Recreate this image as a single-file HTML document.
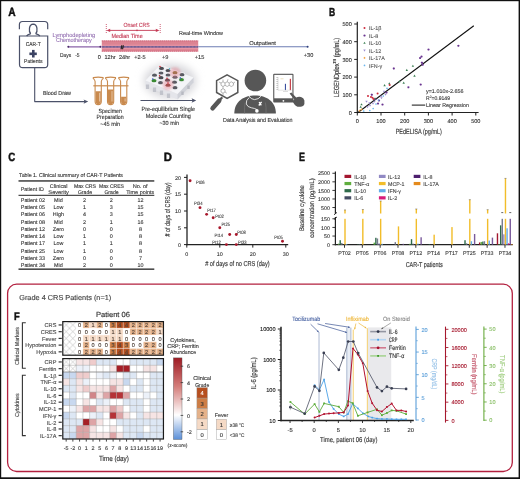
<!DOCTYPE html>
<html><head><meta charset="utf-8"><style>
html,body{margin:0;padding:0;background:#fff;}
svg{display:block;filter:blur(0.2px);}
text{font-family:"Liberation Sans", sans-serif;text-rendering:geometricPrecision;}
</style></head><body>
<svg width="520" height="479" viewBox="0 0 520 479">
<defs>
<filter id="blur2" x="-50%" y="-50%" width="200%" height="200%"><feGaussianBlur stdDeviation="2"/></filter>
<filter id="blur1" x="-50%" y="-50%" width="200%" height="200%"><feGaussianBlur stdDeviation="1"/></filter>
<filter id="blur4" x="-50%" y="-50%" width="200%" height="200%"><feGaussianBlur stdDeviation="4"/></filter>
<linearGradient id="zbar" x1="0" y1="0" x2="0" y2="1">
<stop offset="0" stop-color="#9e1b24"/>
<stop offset="0.35" stop-color="#d47d7a"/>
<stop offset="0.70" stop-color="#ffffff"/>
<stop offset="1" stop-color="#5a8fd8"/>
</linearGradient>
<pattern id="xh" x="62.8" y="321.6" width="6.71" height="6.72" patternUnits="userSpaceOnUse">
<path d="M0,0 L6.71,6.72 M6.71,0 L0,6.72" stroke="#aaaaaa" stroke-width="0.5"/>
</pattern>
<pattern id="xh2" x="62.8" y="358.6" width="6.71" height="6.7" patternUnits="userSpaceOnUse">
<path d="M0,0 L6.71,6.7 M6.71,0 L0,6.7" stroke="#aaaaaa" stroke-width="0.5"/>
</pattern>
</defs>
<rect width="520" height="479" fill="#fff"/>
<text x="8.20" y="15.86" font-size="12" fill="#111" textLength="7.4" lengthAdjust="spacingAndGlyphs" font-weight="bold" stroke="#111" stroke-width="0.45" stroke-linejoin="round">A</text>
<path d="M19.4,29.3 L19.4,24.6 Q19.4,21.5 22.5,21.5 L44.6,21.5 Q47.7,21.5 47.7,24.6 L47.7,29.3" fill="none" stroke="#4b5169" stroke-width="1.2" />
<path d="M30.7,33.7 C28.6,31.6 28.7,24.2 33.2,24.1 C37.7,24.2 37.8,31.6 35.7,33.7" fill="none" stroke="#4b5169" stroke-width="1.3" />
<path d="M26.6,36 C27.8,34.4 29.4,34.1 30.7,33.7 M35.7,33.7 C37.0,34.1 38.6,34.4 39.8,36" fill="none" stroke="#4b5169" stroke-width="1.3" />
<path d="M19.5,36 L47.7,36 L47.7,64.4 Q47.7,67.6 44.5,67.6 L22.7,67.6 Q19.5,67.6 19.5,64.4 Z" fill="none" stroke="#4b5169" stroke-width="1.2" />
<text x="33.20" y="46.09" font-size="5.6" fill="#333" stroke="#333" stroke-width="0.112" text-anchor="middle" textLength="15" lengthAdjust="spacingAndGlyphs">CAR-T</text>
<rect x="29.40" y="52.50" width="7.40" height="2.60" fill="#3a4262" />
<rect x="32.00" y="49.90" width="2.60" height="7.60" fill="#3a4262" />
<text x="33.30" y="63.29" font-size="5.6" fill="#333" stroke="#333" stroke-width="0.112" text-anchor="middle" textLength="18.6" lengthAdjust="spacingAndGlyphs">Patients</text>
<polyline points="34.70,67.60 34.70,101.60 85.50,101.60" fill="none" stroke="#4b5169" stroke-width="1.1" stroke-linejoin="round" />
<path d="M88.2,101.6 L83.6,99.4 L84.6,101.6 L83.6,103.8 Z" fill="#4b5169" />
<text x="43.00" y="95.49" font-size="5.9" fill="#333" stroke="#333" stroke-width="0.118" textLength="28" lengthAdjust="spacingAndGlyphs">Blood Draw</text>
<text x="52.50" y="36.56" font-size="5.8" fill="#9470b2" stroke="#9470b2" stroke-width="0.116" textLength="42.7" lengthAdjust="spacingAndGlyphs">Lymphodepleting</text>
<text x="56.00" y="42.46" font-size="5.8" fill="#9470b2" stroke="#9470b2" stroke-width="0.116" textLength="35.7" lengthAdjust="spacingAndGlyphs">Chemotherapy</text>
<line x1="68.10" y1="46.80" x2="101.00" y2="46.80" stroke="#8a62a8" stroke-width="1.2" />
<circle cx="68.30" cy="46.80" r="1.0" fill="#4b2a6b" />
<circle cx="100.40" cy="46.80" r="1.0" fill="#4b2a6b" />
<text x="60.00" y="56.79" font-size="5.6" fill="#333" stroke="#333" stroke-width="0.112" textLength="11.3" lengthAdjust="spacingAndGlyphs">Days</text>
<text x="75.20" y="56.79" font-size="5.6" fill="#333" stroke="#333" stroke-width="0.112" textLength="4.4" lengthAdjust="spacingAndGlyphs">-5</text>
<rect x="101.80" y="40.50" width="96.40" height="11.10" fill="#dc8392" />
<line x1="101.80" y1="40.90" x2="198.20" y2="40.90" stroke="#c8506a" stroke-width="0.8" stroke-dasharray="1,1"/>
<line x1="101.80" y1="51.20" x2="198.20" y2="51.20" stroke="#c8506a" stroke-width="0.8" stroke-dasharray="1,1"/>
<line x1="101.80" y1="45.20" x2="198.20" y2="45.20" stroke="#eb9cab" stroke-width="0.8" />
<line x1="101.80" y1="48.60" x2="198.20" y2="48.60" stroke="#eb9cab" stroke-width="0.8" />
<line x1="101.80" y1="46.90" x2="198.20" y2="46.90" stroke="#7b78ae" stroke-width="1.4" />
<line x1="101.80" y1="46.90" x2="198.20" y2="46.90" stroke="#4a3a78" stroke-width="1.0" stroke-dasharray="0.7,0.7"/>
<text x="122.20" y="49.17" font-size="5" fill="#222" text-anchor="middle" font-weight="bold" stroke="#222" stroke-width="0.45" stroke-linejoin="round">//</text>
<line x1="198.20" y1="46.80" x2="307.60" y2="46.80" stroke="#6c7db3" stroke-width="1.1" />
<circle cx="307.60" cy="46.80" r="1.0" fill="#2f3f7a" />
<text x="99.30" y="59.29" font-size="5.6" fill="#333" stroke="#333" stroke-width="0.112" text-anchor="middle">0</text>
<text x="110.10" y="59.29" font-size="5.6" fill="#333" stroke="#333" stroke-width="0.112" text-anchor="middle">12hr</text>
<text x="124.60" y="59.29" font-size="5.6" fill="#333" stroke="#333" stroke-width="0.112" text-anchor="middle">24hr</text>
<text x="139.90" y="59.29" font-size="5.6" fill="#333" stroke="#333" stroke-width="0.112" text-anchor="middle">+2-5</text>
<text x="165.20" y="59.29" font-size="5.6" fill="#333" stroke="#333" stroke-width="0.112" text-anchor="middle">+9</text>
<text x="199.60" y="59.29" font-size="5.6" fill="#333" stroke="#333" stroke-width="0.112" text-anchor="middle">+15</text>
<text x="308.60" y="56.89" font-size="5.6" fill="#333" stroke="#333" stroke-width="0.112" text-anchor="middle">+30</text>
<text x="136.70" y="26.83" font-size="6.0" fill="#c43a55" stroke="#c43a55" stroke-width="0.120" text-anchor="middle" textLength="26.2" lengthAdjust="spacingAndGlyphs">Onset CRS</text>
<text x="127.10" y="37.53" font-size="6.0" fill="#c43a55" stroke="#c43a55" stroke-width="0.120" text-anchor="middle" textLength="31.2" lengthAdjust="spacingAndGlyphs">Median Time</text>
<line x1="106.30" y1="24.00" x2="106.30" y2="33.00" stroke="#c43a55" stroke-width="0.8" stroke-dasharray="1,1"/>
<line x1="160.20" y1="24.00" x2="160.20" y2="33.00" stroke="#c43a55" stroke-width="0.8" stroke-dasharray="1,1"/>
<line x1="108.50" y1="30.40" x2="157.50" y2="30.40" stroke="#c43a55" stroke-width="0.9" />
<path d="M106.6,30.4 L110.2,28.7 L110.2,32.1 Z" fill="#c43a55" />
<path d="M159.4,30.4 L155.8,28.7 L155.8,32.1 Z" fill="#c43a55" />
<circle cx="137.00" cy="30.40" r="0.8" fill="#c43a55" />
<text x="179.00" y="34.89" font-size="5.6" fill="#333" stroke="#333" stroke-width="0.112" textLength="44" lengthAdjust="spacingAndGlyphs">Real-time Window</text>
<text x="249.20" y="44.89" font-size="5.6" fill="#333" stroke="#333" stroke-width="0.112" textLength="26.8" lengthAdjust="spacingAndGlyphs">Outpatient</text>
<path d="M93.3,77.6 Q98.2,76.6 103.1,77.6 L103.1,78.6 Q101.5,79.6 101.3,81.5 L101.3,101.5 Q101.3,104.6 98.2,104.6 Q95.1,104.6 95.1,101.5 L95.1,81.5 Q94.9,79.6 93.3,78.6 Z" fill="none" stroke="#c98a4e" stroke-width="1.1" />
<path d="M95.6,91.3 L100.8,91.3 L100.8,101.5 Q100.8,104.1 98.2,104.1 Q95.6,104.1 95.6,101.5 Z" fill="#c98a4e" />
<line x1="99.60" y1="92.80" x2="99.60" y2="101.50" stroke="#f3dcc6" stroke-width="0.7" />
<path d="M105.7,77.6 Q110.6,76.6 115.5,77.6 L115.5,78.6 Q113.9,79.6 113.7,81.5 L113.7,101.5 Q113.7,104.6 110.6,104.6 Q107.5,104.6 107.5,101.5 L107.5,81.5 Q107.3,79.6 105.7,78.6 Z" fill="none" stroke="#c98a4e" stroke-width="1.1" />
<path d="M108.0,89.6 L113.2,89.6 L113.2,101.5 Q113.2,104.1 110.6,104.1 Q108.0,104.1 108.0,101.5 Z" fill="#c98a4e" />
<line x1="112.00" y1="91.10" x2="112.00" y2="101.50" stroke="#f3dcc6" stroke-width="0.7" />
<path d="M118.8,77.6 Q123.7,76.6 128.6,77.6 L128.6,78.6 Q127.0,79.6 126.8,81.5 L126.8,101.5 Q126.8,104.6 123.7,104.6 Q120.6,104.6 120.6,101.5 L120.6,81.5 Q120.4,79.6 118.8,78.6 Z" fill="none" stroke="#c98a4e" stroke-width="1.1" />
<path d="M121.1,96.8 L126.3,96.8 L126.3,101.5 Q126.3,104.1 123.7,104.1 Q121.1,104.1 121.1,101.5 Z" fill="#c98a4e" />
<line x1="125.10" y1="98.30" x2="125.10" y2="101.50" stroke="#f3dcc6" stroke-width="0.7" />
<rect x="93.30" y="85.20" width="35.20" height="1.20" fill="#c98a4e" />
<text x="110.20" y="112.93" font-size="6.0" fill="#333" stroke="#333" stroke-width="0.120" text-anchor="middle" textLength="23.5" lengthAdjust="spacingAndGlyphs">Specimen</text>
<text x="110.10" y="119.43" font-size="6.0" fill="#333" stroke="#333" stroke-width="0.120" text-anchor="middle" textLength="27.3" lengthAdjust="spacingAndGlyphs">Preparation</text>
<text x="110.20" y="125.93" font-size="6.0" fill="#333" stroke="#333" stroke-width="0.120" text-anchor="middle" textLength="19.9" lengthAdjust="spacingAndGlyphs">~45 min</text>
<ellipse cx="170" cy="81" rx="26" ry="17" fill="#d6d6da" filter="url(#blur4)"/>
<path d="M145.5,80.5 L177.5,94 L177.5,99.5 L145.5,86 Z" fill="#e4e5ea" />
<path d="M177.5,94 L193.5,77.5 L193.5,82.5 L177.5,99.5 Z" fill="#d0d2d9" />
<path d="M145.5,80.5 L160.5,64.5 L193.5,77.5 L177.5,94 Z" fill="#f4f5f8" />
<rect x="145.9" y="84.5" width="3.2" height="4.5" fill="#b9bcc4" opacity="0.8"/>
<rect x="152.9" y="87.5" width="3.2" height="4.5" fill="#b9bcc4" opacity="0.8"/>
<rect x="159.9" y="90.5" width="3.2" height="4.5" fill="#b9bcc4" opacity="0.8"/>
<rect x="166.9" y="93.5" width="3.2" height="4.5" fill="#b9bcc4" opacity="0.8"/>
<rect x="181.3" y="91.5" width="2.4" height="3.5" fill="#b0b3bb" opacity="0.8"/>
<rect x="187.3" y="85.5" width="2.4" height="3.5" fill="#b0b3bb" opacity="0.8"/>
<ellipse cx="161.5" cy="68.2" rx="3.2" ry="2.2" fill="#ffffff" stroke="#d5d7dd" stroke-width="0.4"/>
<ellipse cx="161.5" cy="68.4" rx="2.5" ry="1.6" fill="#4a4c52"/>
<ellipse cx="168" cy="70.3" rx="3.2" ry="2.2" fill="#ffffff" stroke="#d5d7dd" stroke-width="0.4"/>
<ellipse cx="168" cy="70.5" rx="2.5" ry="1.6" fill="#4a4c52"/>
<ellipse cx="175" cy="72.5" rx="3.2" ry="2.2" fill="#ffffff" stroke="#d5d7dd" stroke-width="0.4"/>
<ellipse cx="175" cy="72.7" rx="2.5" ry="1.6" fill="#7a6a2a"/>
<ellipse cx="161" cy="72.8" rx="3.2" ry="2.2" fill="#ffffff" stroke="#d5d7dd" stroke-width="0.4"/>
<ellipse cx="161" cy="73.0" rx="2.5" ry="1.6" fill="#585a62"/>
<ellipse cx="168" cy="74.8" rx="3.2" ry="2.2" fill="#ffffff" stroke="#d5d7dd" stroke-width="0.4"/>
<ellipse cx="168" cy="75.0" rx="2.5" ry="1.6" fill="#585a62"/>
<ellipse cx="175" cy="77" rx="3.2" ry="2.2" fill="#ffffff" stroke="#d5d7dd" stroke-width="0.4"/>
<ellipse cx="175" cy="77.2" rx="2.5" ry="1.6" fill="#585a62"/>
<ellipse cx="182" cy="74.5" rx="3.2" ry="2.2" fill="#ffffff" stroke="#d5d7dd" stroke-width="0.4"/>
<ellipse cx="182" cy="74.7" rx="2.5" ry="1.6" fill="#585a62"/>
<ellipse cx="154.5" cy="75" rx="3.2" ry="2.2" fill="#ffffff" stroke="#d5d7dd" stroke-width="0.4"/>
<ellipse cx="154.5" cy="75.2" rx="2.5" ry="1.6" fill="#585a62"/>
<ellipse cx="161" cy="77.5" rx="3.2" ry="2.2" fill="#ffffff" stroke="#d5d7dd" stroke-width="0.4"/>
<ellipse cx="161" cy="77.7" rx="2.5" ry="1.6" fill="#4a4c52"/>
<ellipse cx="167.5" cy="80" rx="3.2" ry="2.2" fill="#ffffff" stroke="#d5d7dd" stroke-width="0.4"/>
<ellipse cx="167.5" cy="80.2" rx="2.5" ry="1.6" fill="#4a3a40"/>
<ellipse cx="174.5" cy="82" rx="3.2" ry="2.2" fill="#ffffff" stroke="#d5d7dd" stroke-width="0.4"/>
<ellipse cx="174.5" cy="82.2" rx="2.5" ry="1.6" fill="#585a62"/>
<ellipse cx="181.5" cy="79.5" rx="3.2" ry="2.2" fill="#ffffff" stroke="#d5d7dd" stroke-width="0.4"/>
<ellipse cx="181.5" cy="79.7" rx="2.5" ry="1.6" fill="#3a8a34"/>
<ellipse cx="154" cy="80.5" rx="3.2" ry="2.2" fill="#ffffff" stroke="#d5d7dd" stroke-width="0.4"/>
<ellipse cx="154" cy="80.7" rx="2.5" ry="1.6" fill="#3a8a34"/>
<ellipse cx="160.5" cy="82.5" rx="3.2" ry="2.2" fill="#ffffff" stroke="#d5d7dd" stroke-width="0.4"/>
<ellipse cx="160.5" cy="82.7" rx="2.5" ry="1.6" fill="#585a62"/>
<ellipse cx="168" cy="85" rx="3.2" ry="2.2" fill="#ffffff" stroke="#d5d7dd" stroke-width="0.4"/>
<ellipse cx="168" cy="85.2" rx="2.5" ry="1.6" fill="#7a3026"/>
<ellipse cx="175" cy="87.5" rx="3.2" ry="2.2" fill="#ffffff" stroke="#d5d7dd" stroke-width="0.4"/>
<ellipse cx="175" cy="87.7" rx="2.5" ry="1.6" fill="#585a62"/>
<circle cx="175" cy="72.5" r="5.5" fill="#e77e8c" opacity="0.4" filter="url(#blur1)"/>
<circle cx="168" cy="84.5" r="5.5" fill="#e77e8c" opacity="0.4" filter="url(#blur1)"/>
<circle cx="160.00" cy="66.50" r="0.8" fill="#d02838" />
<circle cx="169.50" cy="68.80" r="0.8" fill="#50b8d0" />
<circle cx="167.00" cy="68.30" r="0.8" fill="#e8e8e8" />
<circle cx="152.80" cy="79.00" r="0.8" fill="#2848c0" />
<circle cx="180.30" cy="78.00" r="0.8" fill="#2848c0" />
<circle cx="159.60" cy="75.80" r="0.8" fill="#d02838" />
<circle cx="167.00" cy="78.30" r="0.8" fill="#d02838" />
<circle cx="168.00" cy="83.00" r="0.8" fill="#d02838" />
<line x1="140.50" y1="100.50" x2="193.50" y2="100.50" stroke="#4b5169" stroke-width="1.1" />
<path d="M196.2,100.5 L191.6,98.3 L192.6,100.5 L191.6,102.7 Z" fill="#4b5169" />
<text x="168.30" y="111.43" font-size="6.0" fill="#333" stroke="#333" stroke-width="0.120" text-anchor="middle" textLength="53.5" lengthAdjust="spacingAndGlyphs">Pre-equilibrium Single</text>
<text x="168.30" y="118.03" font-size="6.0" fill="#333" stroke="#333" stroke-width="0.120" text-anchor="middle" textLength="45" lengthAdjust="spacingAndGlyphs">Molecule Counting</text>
<text x="169.20" y="124.53" font-size="6.0" fill="#333" stroke="#333" stroke-width="0.120" text-anchor="middle" textLength="19.6" lengthAdjust="spacingAndGlyphs">~30 min</text>
<path d="M227.1,74.8 L237.8,80.6 L237.8,92.5 L227.1,98.5 L216.6,92.5 L216.6,80.6 Z" fill="none" stroke="#575757" stroke-width="1.5" />
<line x1="222.30" y1="97.20" x2="219.60" y2="100.20" stroke="#575757" stroke-width="2.2" />
<line x1="219.20" y1="100.80" x2="212.60" y2="108.20" stroke="#575757" stroke-width="4.6" stroke-linecap="round"/>
<path d="M221,83 L223,81.8 L225,83 L225,85.3 L223,86.5 L221,85.3 Z M225,83 L227.2,81.8 L229.2,83 L229.2,85.3 L227.2,86.5 L225,85.3 M229.2,83 L231.3,81.8 L233.4,83 L233.4,85.3 L231.3,86.5 L229.2,85.3 M223,86.5 L223,88.6 L221,89.8 L221,92 L223,93.2 L225,92 L225,89.8 L223,88.6 M223,81.8 L223,79.5 M227.2,81.8 L228,79.2 M233.4,83 L235,82 M219,82 L221,83 M225,92 L226.8,93.2 M223,93.2 L223,95" fill="none" stroke="#7a7a7a" stroke-width="0.55" />
<circle cx="255.40" cy="80.50" r="10.8" fill="#575757" />
<path d="M234.3,113.6 C234.3,101 244,95.4 255.1,95.4 C266.2,95.4 275.9,101 275.9,113.6 Z" fill="#575757" />
<path d="M249,96 Q251,99.5 254.5,99.6 Q258.5,99.5 261.2,96" fill="none" stroke="#ffffff" stroke-width="0.8" />
<path d="M249.2,97.5 Q245.6,100.5 246.3,104 Q247.5,107.2 251.5,107.8 Q255,108.3 256.8,109.5" fill="none" stroke="#ffffff" stroke-width="0.8" />
<path d="M244.6,113.6 Q244.2,107 245.2,102.5 M266.0,113.6 Q266.4,107 265.4,102.5" fill="none" stroke="#7a7a7a" stroke-width="0.6" />
<circle cx="256.90" cy="110.90" r="1.8" fill="#ffffff" />
<path d="M259.1,102.0 L261.3,105.4 M261.6,101.9 L258.8,105.5" fill="none" stroke="#ffffff" stroke-width="1.3" />
<path d="M273.2,74.8 Q273.2,73.8 274.2,73.8 L292.5,73.8 Q293.5,73.8 293.5,74.8 L293.5,101.6 Q293.5,102.6 292.5,102.6 L274.2,102.6 Q273.2,102.6 273.2,101.6 Z" fill="#575757" />
<rect x="274.30" y="74.90" width="18.10" height="23.40" fill="#ffffff" />
<circle cx="283.40" cy="100.80" r="0.9" fill="#ffffff" />
<rect x="284.90" y="83.80" width="1.10" height="6.30" fill="#3b4fa0" />
<rect x="289.80" y="78.80" width="1.10" height="11.30" fill="#c0303a" />
<line x1="276.30" y1="77.50" x2="278.00" y2="77.50" stroke="#9a9a9a" stroke-width="0.5" />
<line x1="276.30" y1="79.50" x2="278.00" y2="79.50" stroke="#9a9a9a" stroke-width="0.5" />
<line x1="276.30" y1="81.50" x2="278.00" y2="81.50" stroke="#9a9a9a" stroke-width="0.5" />
<line x1="276.30" y1="83.50" x2="278.00" y2="83.50" stroke="#9a9a9a" stroke-width="0.5" />
<line x1="276.30" y1="85.50" x2="278.00" y2="85.50" stroke="#9a9a9a" stroke-width="0.5" />
<line x1="276.30" y1="87.50" x2="278.00" y2="87.50" stroke="#9a9a9a" stroke-width="0.5" />
<line x1="276.30" y1="89.50" x2="278.00" y2="89.50" stroke="#9a9a9a" stroke-width="0.5" />
<line x1="278.00" y1="77.00" x2="278.00" y2="90.20" stroke="#aaaaaa" stroke-width="0.4" />
<line x1="278.00" y1="90.20" x2="291.50" y2="90.20" stroke="#bbbbbb" stroke-width="0.4" />
<line x1="280.50" y1="78.80" x2="283.50" y2="78.80" stroke="#d8c080" stroke-width="0.5" />
<line x1="283.00" y1="91.50" x2="288.00" y2="91.50" stroke="#aaaaaa" stroke-width="0.4" />
<path d="M289.6,93.4 L291.4,92.4 L296.2,97.4 Q298.5,96.5 301,97 Q303.8,97.8 304.4,100.5 L304.4,104 Q303.5,106.8 300.5,106.8 L297.5,106.8 Q295.5,106 294.5,104.5 L292.8,102 Q292.6,100.3 294.3,99.4 Z" fill="#575757" />
<text x="257.80" y="122.49" font-size="5.9" fill="#333" stroke="#333" stroke-width="0.118" text-anchor="middle" textLength="69.5" lengthAdjust="spacingAndGlyphs">Data Analysis and Evaluation</text>
<text x="328.90" y="15.62" font-size="11.6" fill="#111" textLength="6.2" lengthAdjust="spacingAndGlyphs" font-weight="bold" stroke="#111" stroke-width="0.45" stroke-linejoin="round">B</text>
<line x1="357.30" y1="21.80" x2="357.30" y2="113.10" stroke="#222" stroke-width="1.2" />
<line x1="356.70" y1="112.50" x2="478.60" y2="112.50" stroke="#222" stroke-width="1.2" />
<line x1="354.20" y1="112.50" x2="357.30" y2="112.50" stroke="#222" stroke-width="1" />
<text x="351.80" y="114.79" font-size="5.6" fill="#333" stroke="#333" stroke-width="0.112" text-anchor="end">0</text>
<line x1="357.30" y1="112.50" x2="357.30" y2="115.50" stroke="#222" stroke-width="1" />
<text x="357.30" y="123.49" font-size="5.6" fill="#333" stroke="#333" stroke-width="0.112" text-anchor="middle">0</text>
<line x1="354.20" y1="94.80" x2="357.30" y2="94.80" stroke="#222" stroke-width="1" />
<text x="351.80" y="97.09" font-size="5.6" fill="#333" stroke="#333" stroke-width="0.112" text-anchor="end">100</text>
<line x1="381.00" y1="112.50" x2="381.00" y2="115.50" stroke="#222" stroke-width="1" />
<text x="381.00" y="123.49" font-size="5.6" fill="#333" stroke="#333" stroke-width="0.112" text-anchor="middle">100</text>
<line x1="354.20" y1="77.10" x2="357.30" y2="77.10" stroke="#222" stroke-width="1" />
<text x="351.80" y="79.39" font-size="5.6" fill="#333" stroke="#333" stroke-width="0.112" text-anchor="end">200</text>
<line x1="404.70" y1="112.50" x2="404.70" y2="115.50" stroke="#222" stroke-width="1" />
<text x="404.70" y="123.49" font-size="5.6" fill="#333" stroke="#333" stroke-width="0.112" text-anchor="middle">200</text>
<line x1="354.20" y1="59.40" x2="357.30" y2="59.40" stroke="#222" stroke-width="1" />
<text x="351.80" y="61.69" font-size="5.6" fill="#333" stroke="#333" stroke-width="0.112" text-anchor="end">300</text>
<line x1="428.40" y1="112.50" x2="428.40" y2="115.50" stroke="#222" stroke-width="1" />
<text x="428.40" y="123.49" font-size="5.6" fill="#333" stroke="#333" stroke-width="0.112" text-anchor="middle">300</text>
<line x1="354.20" y1="41.70" x2="357.30" y2="41.70" stroke="#222" stroke-width="1" />
<text x="351.80" y="43.99" font-size="5.6" fill="#333" stroke="#333" stroke-width="0.112" text-anchor="end">400</text>
<line x1="452.10" y1="112.50" x2="452.10" y2="115.50" stroke="#222" stroke-width="1" />
<text x="452.10" y="123.49" font-size="5.6" fill="#333" stroke="#333" stroke-width="0.112" text-anchor="middle">400</text>
<line x1="354.20" y1="24.00" x2="357.30" y2="24.00" stroke="#222" stroke-width="1" />
<text x="351.80" y="26.29" font-size="5.6" fill="#333" stroke="#333" stroke-width="0.112" text-anchor="end">500</text>
<line x1="475.80" y1="112.50" x2="475.80" y2="115.50" stroke="#222" stroke-width="1" />
<text x="475.80" y="123.49" font-size="5.6" fill="#333" stroke="#333" stroke-width="0.112" text-anchor="middle">500</text>
<text x="418.80" y="133.83" font-size="7.4" fill="#333" stroke="#333" stroke-width="0.148" text-anchor="middle" textLength="46.3" lengthAdjust="spacingAndGlyphs">PEdELISA (pg/mL)</text>
<g transform="translate(335.90,67.50) rotate(-90)"><text x="0" y="2.63" font-size="7.4" fill="#333" stroke="#333" stroke-width="0.148" text-anchor="middle" textLength="59.5" lengthAdjust="spacingAndGlyphs">LEGENDplex<tspan font-size="4.2" dy="-2.5">TM</tspan><tspan dy="2.5"> (pg/mL)</tspan></text></g>
<circle cx="364.50" cy="28.00" r="1.02" fill="#cc2a3c" />
<text x="369.00" y="30.22" font-size="5.4" fill="#555" stroke="#555" stroke-width="0.108">IL-1&#946;</text>
<path d="M363.31,34.97 L364.50,34.38 L365.69,34.97 L365.18,36.50 L363.82,36.50 Z" fill="#6a3590" />
<text x="369.00" y="37.70" font-size="5.4" fill="#555" stroke="#555" stroke-width="0.108">IL-8</text>
<path d="M364.50,41.69 L365.69,43.81 L363.31,43.81 Z" fill="#3d8055" />
<text x="369.00" y="45.18" font-size="5.4" fill="#555" stroke="#555" stroke-width="0.108">IL-10</text>
<path d="M364.50,51.63 L365.69,49.59 L363.31,49.59 Z" fill="#9d8fd0" />
<text x="369.00" y="52.66" font-size="5.4" fill="#555" stroke="#555" stroke-width="0.108">IL-12</text>
<path d="M364.50,56.73 L365.61,57.92 L364.50,59.11 L363.39,57.92 Z" fill="#f0a040" />
<text x="369.00" y="60.14" font-size="5.4" fill="#555" stroke="#555" stroke-width="0.108">IL-17A</text>
<circle cx="364.50" cy="65.40" r="0.85" fill="#6ab6ee" />
<text x="369.00" y="67.62" font-size="5.4" fill="#555" stroke="#555" stroke-width="0.108">IFN-&#947;</text>
<line x1="357.30" y1="112.97" x2="473.80" y2="25.80" stroke="#111" stroke-width="1.1" />
<path d="M392.61,67.89 L393.80,67.30 L394.99,67.89 L394.48,69.42 L393.12,69.42 Z" fill="#6a3590" />
<path d="M420.71,62.19 L421.90,61.60 L423.09,62.19 L422.58,63.72 L421.22,63.72 Z" fill="#6a3590" />
<path d="M421.51,64.19 L422.70,63.60 L423.89,64.19 L423.38,65.72 L422.02,65.72 Z" fill="#6a3590" />
<path d="M407.21,86.79 L408.40,86.19 L409.59,86.79 L409.08,88.32 L407.72,88.32 Z" fill="#6a3590" />
<path d="M419.51,83.99 L420.70,83.39 L421.89,83.99 L421.38,85.52 L420.02,85.52 Z" fill="#6a3590" />
<path d="M384.00,92.79 L385.19,90.75 L382.81,90.75 Z" fill="#9d8fd0" />
<path d="M370.61,94.19 L371.80,93.59 L372.99,94.19 L372.48,95.72 L371.12,95.72 Z" fill="#6a3590" />
<path d="M457.21,45.29 L458.40,44.70 L459.59,45.29 L459.08,46.82 L457.72,46.82 Z" fill="#6a3590" />
<path d="M427.31,49.09 L428.50,48.50 L429.69,49.09 L429.18,50.62 L427.82,50.62 Z" fill="#6a3590" />
<path d="M420.31,55.99 L421.50,55.40 L422.69,55.99 L422.18,57.52 L420.82,57.52 Z" fill="#6a3590" />
<path d="M418.91,57.59 L420.10,57.00 L421.29,57.59 L420.78,59.12 L419.42,59.12 Z" fill="#6a3590" />
<path d="M385.31,91.99 L386.50,91.39 L387.69,91.99 L387.18,93.52 L385.82,93.52 Z" fill="#6a3590" />
<path d="M381.50,99.19 L382.69,97.15 L380.31,97.15 Z" fill="#9d8fd0" />
<path d="M377.81,99.99 L379.00,99.39 L380.19,99.99 L379.68,101.52 L378.32,101.52 Z" fill="#6a3590" />
<path d="M374.31,98.49 L375.50,97.89 L376.69,98.49 L376.18,100.02 L374.82,100.02 Z" fill="#6a3590" />
<path d="M373.00,104.69 L374.19,102.65 L371.81,102.65 Z" fill="#9d8fd0" />
<path d="M369.50,104.19 L370.69,102.15 L368.31,102.15 Z" fill="#9d8fd0" />
<path d="M381.31,103.99 L382.50,103.39 L383.69,103.99 L383.18,105.52 L381.82,105.52 Z" fill="#6a3590" />
<path d="M376.81,102.99 L378.00,102.39 L379.19,102.99 L378.68,104.52 L377.32,104.52 Z" fill="#6a3590" />
<path d="M366.50,102.69 L367.69,100.65 L365.31,100.65 Z" fill="#9d8fd0" />
<path d="M412.90,64.72 L414.09,66.85 L411.71,66.85 Z" fill="#3d8055" />
<path d="M406.80,68.82 L407.99,70.95 L405.61,70.95 Z" fill="#3d8055" />
<path d="M414.50,74.62 L415.69,76.75 L413.31,76.75 Z" fill="#3d8055" />
<path d="M403.70,81.62 L404.89,83.75 L402.51,83.75 Z" fill="#3d8055" />
<path d="M399.40,80.22 L400.59,82.35 L398.21,82.35 Z" fill="#3d8055" />
<path d="M389.30,82.22 L390.49,84.35 L388.11,84.35 Z" fill="#3d8055" />
<path d="M384.60,84.02 L385.79,86.15 L383.41,86.15 Z" fill="#3d8055" />
<path d="M360.70,105.72 L361.89,107.85 L359.51,107.85 Z" fill="#3d8055" />
<path d="M361.50,103.22 L362.69,105.35 L360.31,105.35 Z" fill="#3d8055" />
<path d="M375.00,97.22 L376.19,99.35 L373.81,99.35 Z" fill="#3d8055" />
<circle cx="389.70" cy="84.90" r="1.02" fill="#cc2a3c" />
<circle cx="377.60" cy="93.40" r="1.02" fill="#cc2a3c" />
<circle cx="368.00" cy="96.00" r="1.02" fill="#cc2a3c" />
<circle cx="372.50" cy="97.70" r="1.02" fill="#cc2a3c" />
<circle cx="373.50" cy="99.00" r="1.02" fill="#cc2a3c" />
<circle cx="371.00" cy="97.00" r="1.02" fill="#cc2a3c" />
<circle cx="387.00" cy="88.30" r="0.85" fill="#6ab6ee" />
<circle cx="383.30" cy="96.00" r="0.85" fill="#6ab6ee" />
<circle cx="373.20" cy="108.50" r="0.85" fill="#6ab6ee" />
<circle cx="369.80" cy="110.50" r="0.85" fill="#6ab6ee" />
<circle cx="363.70" cy="111.00" r="0.85" fill="#6ab6ee" />
<circle cx="378.50" cy="100.00" r="0.85" fill="#6ab6ee" />
<circle cx="376.00" cy="104.00" r="0.85" fill="#6ab6ee" />
<path d="M370.00,106.69 L371.19,104.65 L368.81,104.65 Z" fill="#9d8fd0" />
<path d="M367.50,108.19 L368.69,106.15 L366.31,106.15 Z" fill="#9d8fd0" />
<path d="M381.00,97.69 L382.19,95.65 L379.81,95.65 Z" fill="#9d8fd0" />
<path d="M385.50,95.69 L386.69,93.65 L384.31,93.65 Z" fill="#9d8fd0" />
<path d="M374.50,102.69 L375.69,100.65 L373.31,100.65 Z" fill="#9d8fd0" />
<path d="M359.50,109.61 L360.61,110.80 L359.50,111.99 L358.39,110.80 Z" fill="#f0a040" />
<path d="M361.50,108.31 L362.61,109.50 L361.50,110.69 L360.39,109.50 Z" fill="#f0a040" />
<text x="426.00" y="93.32" font-size="5.4" fill="#333" stroke="#333" stroke-width="0.108" textLength="37.5" lengthAdjust="spacingAndGlyphs">y=1.010x-2.656</text>
<text x="426.00" y="99.82" font-size="5.4" fill="#333" stroke="#333" stroke-width="0.108" textLength="24" lengthAdjust="spacingAndGlyphs">R<tspan font-size="3.5" dy="-1.8">2</tspan><tspan dy="1.8">=0.9149</tspan></text>
<line x1="411.80" y1="105.10" x2="425.20" y2="105.10" stroke="#111" stroke-width="1.0" />
<text x="426.00" y="107.42" font-size="5.4" fill="#333" stroke="#333" stroke-width="0.108" textLength="43" lengthAdjust="spacingAndGlyphs">Linear Regression</text>
<text x="8.20" y="160.81" font-size="12" fill="#111" textLength="7.0" lengthAdjust="spacingAndGlyphs" font-weight="bold" stroke="#111" stroke-width="0.45" stroke-linejoin="round">C</text>
<text x="19.00" y="177.39" font-size="5.6" fill="#333" stroke="#333" stroke-width="0.112" textLength="104" lengthAdjust="spacingAndGlyphs">Table 1. Clinical summary of CAR-T Patients</text>
<rect x="18.50" y="180.30" width="135.80" height="1.30" fill="#222" />
<text x="20.80" y="191.02" font-size="5.4" fill="#333" stroke="#333" stroke-width="0.108" textLength="23" lengthAdjust="spacingAndGlyphs">Patient ID</text>
<text x="58.60" y="187.52" font-size="5.4" fill="#333" stroke="#333" stroke-width="0.108" text-anchor="middle" textLength="17.5" lengthAdjust="spacingAndGlyphs">Clinical</text>
<text x="58.60" y="194.22" font-size="5.4" fill="#333" stroke="#333" stroke-width="0.108" text-anchor="middle" textLength="20.5" lengthAdjust="spacingAndGlyphs">Severity</text>
<text x="85.00" y="187.52" font-size="5.4" fill="#333" stroke="#333" stroke-width="0.108" text-anchor="middle" textLength="22.2" lengthAdjust="spacingAndGlyphs">Max CRS</text>
<text x="85.00" y="194.22" font-size="5.4" fill="#333" stroke="#333" stroke-width="0.108" text-anchor="middle" textLength="14.2" lengthAdjust="spacingAndGlyphs">Grade</text>
<text x="111.50" y="187.52" font-size="5.4" fill="#333" stroke="#333" stroke-width="0.108" text-anchor="middle" textLength="25" lengthAdjust="spacingAndGlyphs">Max CRES</text>
<text x="111.50" y="194.22" font-size="5.4" fill="#333" stroke="#333" stroke-width="0.108" text-anchor="middle" textLength="14.2" lengthAdjust="spacingAndGlyphs">Grade</text>
<text x="140.20" y="187.52" font-size="5.4" fill="#333" stroke="#333" stroke-width="0.108" text-anchor="middle" textLength="15" lengthAdjust="spacingAndGlyphs">No. of</text>
<text x="140.20" y="194.22" font-size="5.4" fill="#333" stroke="#333" stroke-width="0.108" text-anchor="middle" textLength="27.9" lengthAdjust="spacingAndGlyphs">Time points</text>
<rect x="18.50" y="194.80" width="135.80" height="1.00" fill="#222" />
<text x="20.80" y="201.82" font-size="5.4" fill="#333" stroke="#333" stroke-width="0.108" textLength="24.2" lengthAdjust="spacingAndGlyphs">Patient 02</text>
<text x="58.40" y="201.82" font-size="5.4" fill="#333" stroke="#333" stroke-width="0.108" text-anchor="middle">Mid</text>
<text x="84.60" y="201.82" font-size="5.4" fill="#333" stroke="#333" stroke-width="0.108" text-anchor="middle">2</text>
<text x="111.30" y="201.82" font-size="5.4" fill="#333" stroke="#333" stroke-width="0.108" text-anchor="middle">2</text>
<text x="140.60" y="201.82" font-size="5.4" fill="#333" stroke="#333" stroke-width="0.108" text-anchor="middle">12</text>
<text x="20.80" y="209.07" font-size="5.4" fill="#333" stroke="#333" stroke-width="0.108" textLength="24.2" lengthAdjust="spacingAndGlyphs">Patient 05</text>
<text x="58.40" y="209.07" font-size="5.4" fill="#333" stroke="#333" stroke-width="0.108" text-anchor="middle">Low</text>
<text x="84.60" y="209.07" font-size="5.4" fill="#333" stroke="#333" stroke-width="0.108" text-anchor="middle">1</text>
<text x="111.30" y="209.07" font-size="5.4" fill="#333" stroke="#333" stroke-width="0.108" text-anchor="middle">3</text>
<text x="140.60" y="209.07" font-size="5.4" fill="#333" stroke="#333" stroke-width="0.108" text-anchor="middle">15</text>
<text x="20.80" y="216.32" font-size="5.4" fill="#333" stroke="#333" stroke-width="0.108" textLength="24.2" lengthAdjust="spacingAndGlyphs">Patient 06</text>
<text x="58.40" y="216.32" font-size="5.4" fill="#333" stroke="#333" stroke-width="0.108" text-anchor="middle">High</text>
<text x="84.60" y="216.32" font-size="5.4" fill="#333" stroke="#333" stroke-width="0.108" text-anchor="middle">4</text>
<text x="111.30" y="216.32" font-size="5.4" fill="#333" stroke="#333" stroke-width="0.108" text-anchor="middle">3</text>
<text x="140.60" y="216.32" font-size="5.4" fill="#333" stroke="#333" stroke-width="0.108" text-anchor="middle">15</text>
<text x="20.80" y="223.57" font-size="5.4" fill="#333" stroke="#333" stroke-width="0.108" textLength="24.2" lengthAdjust="spacingAndGlyphs">Patient 08</text>
<text x="58.40" y="223.57" font-size="5.4" fill="#333" stroke="#333" stroke-width="0.108" text-anchor="middle">Mid</text>
<text x="84.60" y="223.57" font-size="5.4" fill="#333" stroke="#333" stroke-width="0.108" text-anchor="middle">2</text>
<text x="111.30" y="223.57" font-size="5.4" fill="#333" stroke="#333" stroke-width="0.108" text-anchor="middle">1</text>
<text x="140.60" y="223.57" font-size="5.4" fill="#333" stroke="#333" stroke-width="0.108" text-anchor="middle">16</text>
<text x="20.80" y="230.82" font-size="5.4" fill="#333" stroke="#333" stroke-width="0.108" textLength="24.2" lengthAdjust="spacingAndGlyphs">Patient 12</text>
<text x="58.40" y="230.82" font-size="5.4" fill="#333" stroke="#333" stroke-width="0.108" text-anchor="middle">Zero</text>
<text x="84.60" y="230.82" font-size="5.4" fill="#333" stroke="#333" stroke-width="0.108" text-anchor="middle">0</text>
<text x="111.30" y="230.82" font-size="5.4" fill="#333" stroke="#333" stroke-width="0.108" text-anchor="middle">0</text>
<text x="140.60" y="230.82" font-size="5.4" fill="#333" stroke="#333" stroke-width="0.108" text-anchor="middle">8</text>
<text x="20.80" y="238.07" font-size="5.4" fill="#333" stroke="#333" stroke-width="0.108" textLength="24.2" lengthAdjust="spacingAndGlyphs">Patient 14</text>
<text x="58.40" y="238.07" font-size="5.4" fill="#333" stroke="#333" stroke-width="0.108" text-anchor="middle">Low</text>
<text x="84.60" y="238.07" font-size="5.4" fill="#333" stroke="#333" stroke-width="0.108" text-anchor="middle">1</text>
<text x="111.30" y="238.07" font-size="5.4" fill="#333" stroke="#333" stroke-width="0.108" text-anchor="middle">0</text>
<text x="140.60" y="238.07" font-size="5.4" fill="#333" stroke="#333" stroke-width="0.108" text-anchor="middle">8</text>
<text x="20.80" y="245.32" font-size="5.4" fill="#333" stroke="#333" stroke-width="0.108" textLength="24.2" lengthAdjust="spacingAndGlyphs">Patient 17</text>
<text x="58.40" y="245.32" font-size="5.4" fill="#333" stroke="#333" stroke-width="0.108" text-anchor="middle">Low</text>
<text x="84.60" y="245.32" font-size="5.4" fill="#333" stroke="#333" stroke-width="0.108" text-anchor="middle">1</text>
<text x="111.30" y="245.32" font-size="5.4" fill="#333" stroke="#333" stroke-width="0.108" text-anchor="middle">1</text>
<text x="140.60" y="245.32" font-size="5.4" fill="#333" stroke="#333" stroke-width="0.108" text-anchor="middle">8</text>
<text x="20.80" y="252.57" font-size="5.4" fill="#333" stroke="#333" stroke-width="0.108" textLength="24.2" lengthAdjust="spacingAndGlyphs">Patient 25</text>
<text x="58.40" y="252.57" font-size="5.4" fill="#333" stroke="#333" stroke-width="0.108" text-anchor="middle">Low</text>
<text x="84.60" y="252.57" font-size="5.4" fill="#333" stroke="#333" stroke-width="0.108" text-anchor="middle">1</text>
<text x="111.30" y="252.57" font-size="5.4" fill="#333" stroke="#333" stroke-width="0.108" text-anchor="middle">0</text>
<text x="140.60" y="252.57" font-size="5.4" fill="#333" stroke="#333" stroke-width="0.108" text-anchor="middle">8</text>
<text x="20.80" y="259.82" font-size="5.4" fill="#333" stroke="#333" stroke-width="0.108" textLength="24.2" lengthAdjust="spacingAndGlyphs">Patient 33</text>
<text x="58.40" y="259.82" font-size="5.4" fill="#333" stroke="#333" stroke-width="0.108" text-anchor="middle">Zero</text>
<text x="84.60" y="259.82" font-size="5.4" fill="#333" stroke="#333" stroke-width="0.108" text-anchor="middle">0</text>
<text x="111.30" y="259.82" font-size="5.4" fill="#333" stroke="#333" stroke-width="0.108" text-anchor="middle">0</text>
<text x="140.60" y="259.82" font-size="5.4" fill="#333" stroke="#333" stroke-width="0.108" text-anchor="middle">7</text>
<text x="20.80" y="267.07" font-size="5.4" fill="#333" stroke="#333" stroke-width="0.108" textLength="24.2" lengthAdjust="spacingAndGlyphs">Patient 34</text>
<text x="58.40" y="267.07" font-size="5.4" fill="#333" stroke="#333" stroke-width="0.108" text-anchor="middle">Mid</text>
<text x="84.60" y="267.07" font-size="5.4" fill="#333" stroke="#333" stroke-width="0.108" text-anchor="middle">2</text>
<text x="111.30" y="267.07" font-size="5.4" fill="#333" stroke="#333" stroke-width="0.108" text-anchor="middle">0</text>
<text x="140.60" y="267.07" font-size="5.4" fill="#333" stroke="#333" stroke-width="0.108" text-anchor="middle">10</text>
<rect x="18.50" y="268.50" width="135.80" height="1.30" fill="#222" />
<text x="163.80" y="160.71" font-size="12" fill="#111" textLength="8.2" lengthAdjust="spacingAndGlyphs" font-weight="bold" stroke="#111" stroke-width="0.45" stroke-linejoin="round">D</text>
<line x1="187.00" y1="174.40" x2="187.00" y2="245.20" stroke="#222" stroke-width="1.3" />
<line x1="186.40" y1="244.60" x2="288.20" y2="244.60" stroke="#222" stroke-width="1.3" />
<line x1="184.00" y1="244.60" x2="187.00" y2="244.60" stroke="#222" stroke-width="1" />
<text x="181.00" y="246.82" font-size="5.4" fill="#333" stroke="#333" stroke-width="0.108" text-anchor="end">0</text>
<line x1="184.00" y1="227.80" x2="187.00" y2="227.80" stroke="#222" stroke-width="1" />
<text x="181.00" y="230.02" font-size="5.4" fill="#333" stroke="#333" stroke-width="0.108" text-anchor="end">5</text>
<line x1="184.00" y1="211.00" x2="187.00" y2="211.00" stroke="#222" stroke-width="1" />
<text x="181.00" y="213.22" font-size="5.4" fill="#333" stroke="#333" stroke-width="0.108" text-anchor="end">10</text>
<line x1="184.00" y1="194.20" x2="187.00" y2="194.20" stroke="#222" stroke-width="1" />
<text x="181.00" y="196.42" font-size="5.4" fill="#333" stroke="#333" stroke-width="0.108" text-anchor="end">15</text>
<line x1="184.00" y1="177.40" x2="187.00" y2="177.40" stroke="#222" stroke-width="1" />
<text x="181.00" y="179.62" font-size="5.4" fill="#333" stroke="#333" stroke-width="0.108" text-anchor="end">20</text>
<line x1="186.80" y1="244.60" x2="186.80" y2="247.60" stroke="#222" stroke-width="1" />
<text x="186.80" y="255.82" font-size="5.4" fill="#333" stroke="#333" stroke-width="0.108" text-anchor="middle">0</text>
<line x1="219.80" y1="244.60" x2="219.80" y2="247.60" stroke="#222" stroke-width="1" />
<text x="219.80" y="255.82" font-size="5.4" fill="#333" stroke="#333" stroke-width="0.108" text-anchor="middle">10</text>
<line x1="252.80" y1="244.60" x2="252.80" y2="247.60" stroke="#222" stroke-width="1" />
<text x="252.80" y="255.82" font-size="5.4" fill="#333" stroke="#333" stroke-width="0.108" text-anchor="middle">20</text>
<line x1="285.80" y1="244.60" x2="285.80" y2="247.60" stroke="#222" stroke-width="1" />
<text x="285.80" y="255.82" font-size="5.4" fill="#333" stroke="#333" stroke-width="0.108" text-anchor="middle">30</text>
<text x="237.40" y="265.62" font-size="7.1" fill="#333" stroke="#333" stroke-width="0.142" text-anchor="middle" textLength="64.5" lengthAdjust="spacingAndGlyphs"># of days of no CRS (day)</text>
<g transform="translate(167.30,209.50) rotate(-90)"><text x="0" y="2.52" font-size="7.1" fill="#333" stroke="#333" stroke-width="0.142" text-anchor="middle" textLength="54" lengthAdjust="spacingAndGlyphs"># of days of CRS (day)</text></g>
<circle cx="190.10" cy="180.76" r="1.45" fill="#a8172b" />
<text x="200.30" y="184.00" font-size="4.8" fill="#444" stroke="#444" stroke-width="0.096" text-anchor="middle" textLength="8.6" lengthAdjust="spacingAndGlyphs">Pt06</text>
<circle cx="200.00" cy="207.64" r="1.45" fill="#a8172b" />
<text x="198.20" y="204.80" font-size="4.8" fill="#444" stroke="#444" stroke-width="0.096" text-anchor="middle" textLength="8.6" lengthAdjust="spacingAndGlyphs">Pt34</text>
<circle cx="206.60" cy="214.36" r="1.45" fill="#a8172b" />
<text x="211.60" y="212.20" font-size="4.8" fill="#444" stroke="#444" stroke-width="0.096" text-anchor="middle" textLength="8.6" lengthAdjust="spacingAndGlyphs">Pt17</text>
<circle cx="213.20" cy="217.72" r="1.45" fill="#a8172b" />
<text x="219.60" y="217.70" font-size="4.8" fill="#444" stroke="#444" stroke-width="0.096" text-anchor="middle" textLength="8.6" lengthAdjust="spacingAndGlyphs">Pt02</text>
<circle cx="219.80" cy="227.80" r="1.45" fill="#a8172b" />
<text x="225.80" y="226.00" font-size="4.8" fill="#444" stroke="#444" stroke-width="0.096" text-anchor="middle" textLength="8.6" lengthAdjust="spacingAndGlyphs">Pt25</text>
<circle cx="229.70" cy="234.52" r="1.45" fill="#a8172b" />
<text x="218.90" y="236.70" font-size="4.8" fill="#444" stroke="#444" stroke-width="0.096" text-anchor="middle" textLength="8.6" lengthAdjust="spacingAndGlyphs">Pt14</text>
<circle cx="236.30" cy="234.52" r="1.45" fill="#a8172b" />
<text x="241.50" y="233.70" font-size="4.8" fill="#444" stroke="#444" stroke-width="0.096" text-anchor="middle" textLength="8.6" lengthAdjust="spacingAndGlyphs">Pt08</text>
<circle cx="226.40" cy="244.60" r="1.45" fill="#a8172b" />
<text x="216.60" y="244.10" font-size="4.8" fill="#444" stroke="#444" stroke-width="0.096" text-anchor="middle" textLength="8.6" lengthAdjust="spacingAndGlyphs">Pt12</text>
<circle cx="236.30" cy="244.60" r="1.45" fill="#a8172b" />
<text x="242.40" y="243.60" font-size="4.8" fill="#444" stroke="#444" stroke-width="0.096" text-anchor="middle" textLength="8.6" lengthAdjust="spacingAndGlyphs">Pt33</text>
<circle cx="282.50" cy="241.24" r="1.45" fill="#a8172b" />
<text x="278.50" y="239.00" font-size="4.8" fill="#444" stroke="#444" stroke-width="0.096" text-anchor="middle" textLength="8.6" lengthAdjust="spacingAndGlyphs">Pt05</text>
<text x="299.00" y="161.06" font-size="12" fill="#111" textLength="6.0" lengthAdjust="spacingAndGlyphs" font-weight="bold" stroke="#111" stroke-width="0.45" stroke-linejoin="round">E</text>
<line x1="335.40" y1="171.60" x2="335.40" y2="213.80" stroke="#222" stroke-width="1.2" />
<line x1="335.40" y1="217.00" x2="335.40" y2="245.30" stroke="#222" stroke-width="1.2" />
<line x1="334.00" y1="214.80" x2="337.00" y2="212.40" stroke="#222" stroke-width="0.9" />
<line x1="334.00" y1="219.40" x2="337.00" y2="216.90" stroke="#222" stroke-width="0.9" />
<line x1="334.80" y1="244.70" x2="512.80" y2="244.70" stroke="#222" stroke-width="1.2" />
<line x1="332.40" y1="207.53" x2="335.40" y2="207.53" stroke="#222" stroke-width="0.9" />
<text x="329.90" y="209.72" font-size="5.3" fill="#333" stroke="#333" stroke-width="0.106" text-anchor="end">500</text>
<line x1="332.40" y1="198.97" x2="335.40" y2="198.97" stroke="#222" stroke-width="0.9" />
<text x="329.90" y="201.15" font-size="5.3" fill="#333" stroke="#333" stroke-width="0.106" text-anchor="end">1000</text>
<line x1="332.40" y1="190.41" x2="335.40" y2="190.41" stroke="#222" stroke-width="0.9" />
<text x="329.90" y="192.59" font-size="5.3" fill="#333" stroke="#333" stroke-width="0.106" text-anchor="end">1500</text>
<line x1="332.40" y1="181.84" x2="335.40" y2="181.84" stroke="#222" stroke-width="0.9" />
<text x="329.90" y="184.02" font-size="5.3" fill="#333" stroke="#333" stroke-width="0.106" text-anchor="end">2000</text>
<line x1="332.40" y1="173.28" x2="335.40" y2="173.28" stroke="#222" stroke-width="0.9" />
<text x="329.90" y="175.46" font-size="5.3" fill="#333" stroke="#333" stroke-width="0.106" text-anchor="end">2500</text>
<line x1="332.40" y1="244.70" x2="335.40" y2="244.70" stroke="#222" stroke-width="0.9" />
<text x="329.90" y="246.88" font-size="5.3" fill="#333" stroke="#333" stroke-width="0.106" text-anchor="end">0</text>
<line x1="332.40" y1="236.06" x2="335.40" y2="236.06" stroke="#222" stroke-width="0.9" />
<text x="329.90" y="238.25" font-size="5.3" fill="#333" stroke="#333" stroke-width="0.106" text-anchor="end">50</text>
<line x1="332.40" y1="227.43" x2="335.40" y2="227.43" stroke="#222" stroke-width="0.9" />
<text x="329.90" y="229.61" font-size="5.3" fill="#333" stroke="#333" stroke-width="0.106" text-anchor="end">100</text>
<line x1="332.40" y1="218.79" x2="335.40" y2="218.79" stroke="#222" stroke-width="0.9" />
<text x="329.90" y="220.98" font-size="5.3" fill="#333" stroke="#333" stroke-width="0.106" text-anchor="end">150</text>
<g transform="translate(301.60,208.10) rotate(-90)"><text x="0" y="2.34" font-size="6.6" fill="#333" stroke="#333" stroke-width="0.132" text-anchor="middle" textLength="46" lengthAdjust="spacingAndGlyphs">Baseline cytokine</text></g>
<g transform="translate(311.30,208.00) rotate(-90)"><text x="0" y="2.34" font-size="6.6" fill="#333" stroke="#333" stroke-width="0.132" text-anchor="middle" textLength="59.4" lengthAdjust="spacingAndGlyphs">concentration (pg/mL)</text></g>
<rect x="344.50" y="174.80" width="6.70" height="3.20" fill="#a3172f" />
<text x="354.20" y="178.58" font-size="5.3" fill="#444" stroke="#444" stroke-width="0.106">IL-1&#946;</text>
<rect x="344.50" y="181.95" width="6.70" height="3.20" fill="#5fae3e" />
<text x="354.20" y="185.73" font-size="5.3" fill="#444" stroke="#444" stroke-width="0.106">TNF-&#945;</text>
<rect x="344.50" y="189.10" width="6.70" height="3.20" fill="#2f6b4a" />
<text x="354.20" y="192.88" font-size="5.3" fill="#444" stroke="#444" stroke-width="0.106">IL-10</text>
<rect x="344.50" y="196.25" width="6.70" height="3.20" fill="#454c63" />
<text x="354.20" y="200.03" font-size="5.3" fill="#444" stroke="#444" stroke-width="0.106">IL-6</text>
<rect x="378.90" y="174.80" width="6.70" height="3.20" fill="#9189c4" />
<text x="388.00" y="178.58" font-size="5.3" fill="#444" stroke="#444" stroke-width="0.106">IL-12</text>
<rect x="378.90" y="181.95" width="6.70" height="3.20" fill="#f2bd2a" />
<text x="388.00" y="185.73" font-size="5.3" fill="#444" stroke="#444" stroke-width="0.106">MCP-1</text>
<rect x="378.90" y="189.10" width="6.70" height="3.20" fill="#62acea" />
<text x="388.00" y="192.88" font-size="5.3" fill="#444" stroke="#444" stroke-width="0.106">IFN-&#947;</text>
<rect x="378.90" y="196.25" width="6.70" height="3.20" fill="#d81b7a" />
<text x="388.00" y="200.03" font-size="5.3" fill="#444" stroke="#444" stroke-width="0.106">IL-2</text>
<rect x="413.70" y="174.80" width="6.70" height="3.20" fill="#4d1f6e" />
<text x="423.30" y="178.58" font-size="5.3" fill="#444" stroke="#444" stroke-width="0.106">IL-8</text>
<rect x="413.70" y="181.95" width="6.70" height="3.20" fill="#e48a1c" />
<text x="423.30" y="185.73" font-size="5.3" fill="#444" stroke="#444" stroke-width="0.106">IL-17A</text>
<line x1="344.50" y1="244.70" x2="344.50" y2="247.80" stroke="#222" stroke-width="0.9" />
<text x="344.50" y="255.18" font-size="5.3" fill="#333" stroke="#333" stroke-width="0.106" text-anchor="middle">PT02</text>
<rect x="337.90" y="243.66" width="1.40" height="1.04" fill="#5fae3e" />
<rect x="339.50" y="240.21" width="1.40" height="4.49" fill="#2f6b4a" />
<rect x="341.10" y="242.97" width="1.40" height="1.73" fill="#767a8c" />
<rect x="344.30" y="218.80" width="1.40" height="25.90" fill="#f2bd2a" />
<rect x="344.30" y="209.93" width="1.40" height="3.57" fill="#f2bd2a" />
<line x1="344.00" y1="209.93" x2="346.00" y2="209.93" stroke="#555" stroke-width="0.5" />
<rect x="345.90" y="244.01" width="1.40" height="0.69" fill="#62acea" />
<line x1="362.33" y1="244.70" x2="362.33" y2="247.80" stroke="#222" stroke-width="0.9" />
<text x="362.33" y="255.18" font-size="5.3" fill="#333" stroke="#333" stroke-width="0.106" text-anchor="middle">PT05</text>
<rect x="357.33" y="244.18" width="1.40" height="0.52" fill="#2f6b4a" />
<rect x="358.93" y="244.35" width="1.40" height="0.35" fill="#767a8c" />
<rect x="362.13" y="218.80" width="1.40" height="25.90" fill="#f2bd2a" />
<rect x="362.13" y="209.50" width="1.40" height="4.00" fill="#f2bd2a" />
<line x1="361.83" y1="209.50" x2="363.83" y2="209.50" stroke="#555" stroke-width="0.5" />
<line x1="380.16" y1="244.70" x2="380.16" y2="247.80" stroke="#222" stroke-width="0.9" />
<text x="380.16" y="255.18" font-size="5.3" fill="#333" stroke="#333" stroke-width="0.106" text-anchor="middle">PT06</text>
<rect x="373.56" y="242.63" width="1.40" height="2.07" fill="#5fae3e" />
<rect x="375.16" y="237.79" width="1.40" height="6.91" fill="#2f6b4a" />
<rect x="376.76" y="238.48" width="1.40" height="6.22" fill="#767a8c" />
<rect x="378.36" y="243.32" width="1.40" height="1.38" fill="#9189c4" />
<rect x="379.96" y="218.80" width="1.40" height="25.90" fill="#f2bd2a" />
<rect x="379.96" y="201.03" width="1.40" height="12.47" fill="#f2bd2a" />
<line x1="379.66" y1="201.03" x2="381.66" y2="201.03" stroke="#555" stroke-width="0.5" />
<rect x="381.56" y="243.84" width="1.40" height="0.86" fill="#62acea" />
<line x1="397.99" y1="244.70" x2="397.99" y2="247.80" stroke="#222" stroke-width="0.9" />
<text x="397.99" y="255.18" font-size="5.3" fill="#333" stroke="#333" stroke-width="0.106" text-anchor="middle">PT08</text>
<rect x="394.59" y="242.11" width="1.40" height="2.59" fill="#767a8c" />
<rect x="397.79" y="226.39" width="1.40" height="18.31" fill="#f2bd2a" />
<rect x="402.59" y="243.84" width="1.40" height="0.86" fill="#7a5a9c" />
<line x1="415.82" y1="244.70" x2="415.82" y2="247.80" stroke="#222" stroke-width="0.9" />
<text x="415.82" y="255.18" font-size="5.3" fill="#333" stroke="#333" stroke-width="0.106" text-anchor="middle">PT12</text>
<rect x="409.22" y="243.84" width="1.40" height="0.86" fill="#5fae3e" />
<rect x="410.82" y="239.17" width="1.40" height="5.53" fill="#2f6b4a" />
<rect x="412.42" y="243.66" width="1.40" height="1.04" fill="#767a8c" />
<rect x="415.62" y="218.80" width="1.40" height="25.90" fill="#f2bd2a" />
<rect x="415.62" y="208.99" width="1.40" height="4.51" fill="#f2bd2a" />
<line x1="415.32" y1="208.99" x2="417.32" y2="208.99" stroke="#555" stroke-width="0.5" />
<rect x="417.22" y="243.66" width="1.40" height="1.04" fill="#62acea" />
<rect x="420.42" y="237.27" width="1.40" height="7.43" fill="#7a5a9c" />
<line x1="433.65" y1="244.70" x2="433.65" y2="247.80" stroke="#222" stroke-width="0.9" />
<text x="433.65" y="255.18" font-size="5.3" fill="#333" stroke="#333" stroke-width="0.106" text-anchor="middle">PT14</text>
<rect x="428.65" y="244.18" width="1.40" height="0.52" fill="#2f6b4a" />
<rect x="433.45" y="234.68" width="1.40" height="10.02" fill="#f2bd2a" />
<line x1="451.48" y1="244.70" x2="451.48" y2="247.80" stroke="#222" stroke-width="0.9" />
<text x="451.48" y="255.18" font-size="5.3" fill="#333" stroke="#333" stroke-width="0.106" text-anchor="middle">PT17</text>
<rect x="451.28" y="227.08" width="1.40" height="17.62" fill="#f2bd2a" />
<line x1="469.31" y1="244.70" x2="469.31" y2="247.80" stroke="#222" stroke-width="0.9" />
<text x="469.31" y="255.18" font-size="5.3" fill="#333" stroke="#333" stroke-width="0.106" text-anchor="middle">PT25</text>
<rect x="464.31" y="240.21" width="1.40" height="4.49" fill="#2f6b4a" />
<rect x="465.91" y="243.32" width="1.40" height="1.38" fill="#767a8c" />
<rect x="469.11" y="218.80" width="1.40" height="25.90" fill="#f2bd2a" />
<rect x="469.11" y="199.66" width="1.40" height="13.84" fill="#f2bd2a" />
<line x1="468.81" y1="199.66" x2="470.81" y2="199.66" stroke="#555" stroke-width="0.5" />
<rect x="470.71" y="241.25" width="1.40" height="3.45" fill="#62acea" />
<rect x="473.91" y="233.99" width="1.40" height="10.71" fill="#7a5a9c" />
<line x1="487.14" y1="244.70" x2="487.14" y2="247.80" stroke="#222" stroke-width="0.9" />
<text x="487.14" y="255.18" font-size="5.3" fill="#333" stroke="#333" stroke-width="0.106" text-anchor="middle">PT33</text>
<rect x="478.94" y="242.45" width="1.40" height="2.25" fill="#a3172f" />
<rect x="480.54" y="241.94" width="1.40" height="2.76" fill="#5fae3e" />
<rect x="482.14" y="241.59" width="1.40" height="3.11" fill="#2f6b4a" />
<rect x="483.74" y="241.25" width="1.40" height="3.45" fill="#767a8c" />
<rect x="486.94" y="218.80" width="1.40" height="25.90" fill="#f2bd2a" />
<rect x="486.94" y="209.68" width="1.40" height="3.82" fill="#f2bd2a" />
<line x1="486.64" y1="209.68" x2="488.64" y2="209.68" stroke="#555" stroke-width="0.5" />
<rect x="488.54" y="240.56" width="1.40" height="4.14" fill="#62acea" />
<rect x="491.74" y="237.62" width="1.40" height="7.08" fill="#7a5a9c" />
<line x1="504.97" y1="244.70" x2="504.97" y2="247.80" stroke="#222" stroke-width="0.9" />
<text x="504.97" y="255.18" font-size="5.3" fill="#333" stroke="#333" stroke-width="0.106" text-anchor="middle">PT34</text>
<rect x="496.77" y="233.30" width="1.40" height="11.40" fill="#a3172f" />
<rect x="498.37" y="244.18" width="1.40" height="0.52" fill="#5fae3e" />
<rect x="499.97" y="225.36" width="1.40" height="19.34" fill="#2f6b4a" />
<rect x="501.57" y="218.80" width="1.40" height="25.90" fill="#767a8c" />
<line x1="501.27" y1="212.60" x2="503.27" y2="212.60" stroke="#555" stroke-width="0.9" />
<rect x="503.17" y="234.34" width="1.40" height="10.36" fill="#9189c4" />
<rect x="504.77" y="218.80" width="1.40" height="25.90" fill="#f2bd2a" />
<rect x="504.77" y="178.41" width="1.40" height="35.09" fill="#f2bd2a" />
<line x1="504.47" y1="178.41" x2="506.47" y2="178.41" stroke="#555" stroke-width="0.5" />
<rect x="506.37" y="228.29" width="1.40" height="16.41" fill="#62acea" />
<rect x="507.97" y="243.32" width="1.40" height="1.38" fill="#d81b7a" />
<rect x="509.57" y="218.80" width="1.40" height="25.90" fill="#7a5a9c" />
<line x1="509.27" y1="212.60" x2="511.27" y2="212.60" stroke="#555" stroke-width="0.9" />
<rect x="511.17" y="244.01" width="1.40" height="0.69" fill="#e48a1c" />
<text x="424.20" y="266.82" font-size="7.1" fill="#333" stroke="#333" stroke-width="0.142" text-anchor="middle" textLength="37" lengthAdjust="spacingAndGlyphs">CAR-T patients</text>
<rect x="7.6" y="284.2" width="504.7" height="187.3" rx="9" ry="9" fill="none" stroke="#b3203f" stroke-width="1.3"/>
<text x="19.20" y="300.06" font-size="7.2" fill="#444" stroke="#444" stroke-width="0.144" textLength="92.1" lengthAdjust="spacingAndGlyphs">Grade 4 CRS Patients (n=1)</text>
<text x="14.00" y="320.06" font-size="11" fill="#111" textLength="5.7" lengthAdjust="spacingAndGlyphs" font-weight="bold" stroke="#111" stroke-width="0.45" stroke-linejoin="round">F</text>
<text x="96.00" y="316.93" font-size="7.4" fill="#333" stroke="#333" stroke-width="0.148" textLength="33.9" lengthAdjust="spacingAndGlyphs">Patient 06</text>
<rect x="62.80" y="321.60" width="13.42" height="33.60" fill="url(#xh)" />
<rect x="76.22" y="321.60" width="6.71" height="6.72" fill="#ffffff" />
<text x="79.58" y="327.25" font-size="5.6" fill="#4d4038" stroke="#4d4038" stroke-width="0.112" text-anchor="middle">0</text>
<rect x="82.93" y="321.60" width="6.71" height="6.72" fill="#e5b28a" />
<text x="86.28" y="327.25" font-size="5.6" fill="#4d4038" stroke="#4d4038" stroke-width="0.112" text-anchor="middle">2</text>
<rect x="89.64" y="321.60" width="6.71" height="6.72" fill="#f5dac6" />
<text x="93.00" y="327.25" font-size="5.6" fill="#4d4038" stroke="#4d4038" stroke-width="0.112" text-anchor="middle">1</text>
<rect x="96.35" y="321.60" width="6.71" height="6.72" fill="#e5b28a" />
<text x="99.70" y="327.25" font-size="5.6" fill="#4d4038" stroke="#4d4038" stroke-width="0.112" text-anchor="middle">2</text>
<rect x="103.06" y="321.60" width="6.71" height="6.72" fill="#ffffff" />
<text x="106.42" y="327.25" font-size="5.6" fill="#4d4038" stroke="#4d4038" stroke-width="0.112" text-anchor="middle">0</text>
<rect x="109.77" y="321.60" width="6.71" height="6.72" fill="#cd7d45" />
<text x="113.12" y="327.25" font-size="5.6" fill="#4d4038" stroke="#4d4038" stroke-width="0.112" text-anchor="middle">3</text>
<rect x="116.48" y="321.60" width="6.71" height="6.72" fill="#b64f1f" />
<text x="119.83" y="327.25" font-size="5.6" fill="#4d4038" stroke="#4d4038" stroke-width="0.112" text-anchor="middle">4</text>
<rect x="123.19" y="321.60" width="6.71" height="6.72" fill="#b64f1f" />
<text x="126.55" y="327.25" font-size="5.6" fill="#4d4038" stroke="#4d4038" stroke-width="0.112" text-anchor="middle">4</text>
<rect x="129.90" y="321.60" width="6.71" height="6.72" fill="#e5b28a" />
<text x="133.25" y="327.25" font-size="5.6" fill="#4d4038" stroke="#4d4038" stroke-width="0.112" text-anchor="middle">2</text>
<rect x="136.61" y="321.60" width="6.71" height="6.72" fill="#e5b28a" />
<text x="139.97" y="327.25" font-size="5.6" fill="#4d4038" stroke="#4d4038" stroke-width="0.112" text-anchor="middle">2</text>
<rect x="143.32" y="321.60" width="6.71" height="6.72" fill="#e5b28a" />
<text x="146.67" y="327.25" font-size="5.6" fill="#4d4038" stroke="#4d4038" stroke-width="0.112" text-anchor="middle">2</text>
<rect x="150.03" y="321.60" width="6.71" height="6.72" fill="#e5b28a" />
<text x="153.38" y="327.25" font-size="5.6" fill="#4d4038" stroke="#4d4038" stroke-width="0.112" text-anchor="middle">2</text>
<rect x="156.74" y="321.60" width="6.71" height="6.72" fill="#e5b28a" />
<text x="160.09" y="327.25" font-size="5.6" fill="#4d4038" stroke="#4d4038" stroke-width="0.112" text-anchor="middle">2</text>
<text x="56.40" y="327.25" font-size="5.6" fill="#4a4a4a" stroke="#4a4a4a" stroke-width="0.112" text-anchor="end">CRS</text>
<line x1="58.60" y1="324.96" x2="61.80" y2="324.96" stroke="#333" stroke-width="1.2" />
<rect x="76.22" y="328.32" width="6.71" height="6.72" fill="#ffffff" />
<text x="79.58" y="333.97" font-size="5.6" fill="#4d4038" stroke="#4d4038" stroke-width="0.112" text-anchor="middle">0</text>
<rect x="82.93" y="328.32" width="6.71" height="6.72" fill="#ffffff" />
<text x="86.28" y="333.97" font-size="5.6" fill="#4d4038" stroke="#4d4038" stroke-width="0.112" text-anchor="middle">0</text>
<rect x="89.64" y="328.32" width="6.71" height="6.72" fill="#ffffff" />
<text x="93.00" y="333.97" font-size="5.6" fill="#4d4038" stroke="#4d4038" stroke-width="0.112" text-anchor="middle">0</text>
<rect x="96.35" y="328.32" width="6.71" height="6.72" fill="#ffffff" />
<text x="99.70" y="333.97" font-size="5.6" fill="#4d4038" stroke="#4d4038" stroke-width="0.112" text-anchor="middle">0</text>
<rect x="103.06" y="328.32" width="6.71" height="6.72" fill="#ffffff" />
<text x="106.42" y="333.97" font-size="5.6" fill="#4d4038" stroke="#4d4038" stroke-width="0.112" text-anchor="middle">0</text>
<rect x="109.77" y="328.32" width="6.71" height="6.72" fill="#f5dac6" />
<text x="113.12" y="333.97" font-size="5.6" fill="#4d4038" stroke="#4d4038" stroke-width="0.112" text-anchor="middle">1</text>
<rect x="116.48" y="328.32" width="6.71" height="6.72" fill="#f5dac6" />
<text x="119.83" y="333.97" font-size="5.6" fill="#4d4038" stroke="#4d4038" stroke-width="0.112" text-anchor="middle">1</text>
<rect x="123.19" y="328.32" width="6.71" height="6.72" fill="#ffffff" />
<text x="126.55" y="333.97" font-size="5.6" fill="#4d4038" stroke="#4d4038" stroke-width="0.112" text-anchor="middle">0</text>
<rect x="129.90" y="328.32" width="6.71" height="6.72" fill="#e5b28a" />
<text x="133.25" y="333.97" font-size="5.6" fill="#4d4038" stroke="#4d4038" stroke-width="0.112" text-anchor="middle">2</text>
<rect x="136.61" y="328.32" width="6.71" height="6.72" fill="#e5b28a" />
<text x="139.97" y="333.97" font-size="5.6" fill="#4d4038" stroke="#4d4038" stroke-width="0.112" text-anchor="middle">2</text>
<rect x="143.32" y="328.32" width="6.71" height="6.72" fill="#e5b28a" />
<text x="146.67" y="333.97" font-size="5.6" fill="#4d4038" stroke="#4d4038" stroke-width="0.112" text-anchor="middle">2</text>
<rect x="150.03" y="328.32" width="6.71" height="6.72" fill="#e5b28a" />
<text x="153.38" y="333.97" font-size="5.6" fill="#4d4038" stroke="#4d4038" stroke-width="0.112" text-anchor="middle">2</text>
<rect x="156.74" y="328.32" width="6.71" height="6.72" fill="#f5dac6" />
<text x="160.09" y="333.97" font-size="5.6" fill="#4d4038" stroke="#4d4038" stroke-width="0.112" text-anchor="middle">1</text>
<text x="56.40" y="333.97" font-size="5.6" fill="#4a4a4a" stroke="#4a4a4a" stroke-width="0.112" text-anchor="end">CRES</text>
<line x1="58.60" y1="331.68" x2="61.80" y2="331.68" stroke="#333" stroke-width="1.2" />
<rect x="76.22" y="335.04" width="6.71" height="6.72" fill="#ffffff" />
<text x="79.58" y="340.69" font-size="5.6" fill="#4d4038" stroke="#4d4038" stroke-width="0.112" text-anchor="middle">0</text>
<rect x="82.93" y="335.04" width="6.71" height="6.72" fill="#f5dac6" />
<text x="86.28" y="340.69" font-size="5.6" fill="#4d4038" stroke="#4d4038" stroke-width="0.112" text-anchor="middle">1</text>
<rect x="89.64" y="335.04" width="6.71" height="6.72" fill="#f5dac6" />
<text x="93.00" y="340.69" font-size="5.6" fill="#4d4038" stroke="#4d4038" stroke-width="0.112" text-anchor="middle">1</text>
<rect x="96.35" y="335.04" width="6.71" height="6.72" fill="#f5dac6" />
<text x="99.70" y="340.69" font-size="5.6" fill="#4d4038" stroke="#4d4038" stroke-width="0.112" text-anchor="middle">1</text>
<rect x="103.06" y="335.04" width="6.71" height="6.72" fill="#f5dac6" />
<text x="106.42" y="340.69" font-size="5.6" fill="#4d4038" stroke="#4d4038" stroke-width="0.112" text-anchor="middle">1</text>
<rect x="109.77" y="335.04" width="6.71" height="6.72" fill="#f5dac6" />
<text x="113.12" y="340.69" font-size="5.6" fill="#4d4038" stroke="#4d4038" stroke-width="0.112" text-anchor="middle">1</text>
<rect x="116.48" y="335.04" width="6.71" height="6.72" fill="#f5dac6" />
<text x="119.83" y="340.69" font-size="5.6" fill="#4d4038" stroke="#4d4038" stroke-width="0.112" text-anchor="middle">1</text>
<rect x="123.19" y="335.04" width="6.71" height="6.72" fill="#ffffff" />
<text x="126.55" y="340.69" font-size="5.6" fill="#4d4038" stroke="#4d4038" stroke-width="0.112" text-anchor="middle">0</text>
<rect x="129.90" y="335.04" width="6.71" height="6.72" fill="#ffffff" />
<text x="133.25" y="340.69" font-size="5.6" fill="#4d4038" stroke="#4d4038" stroke-width="0.112" text-anchor="middle">0</text>
<rect x="136.61" y="335.04" width="6.71" height="6.72" fill="#ffffff" />
<text x="139.97" y="340.69" font-size="5.6" fill="#4d4038" stroke="#4d4038" stroke-width="0.112" text-anchor="middle">0</text>
<rect x="143.32" y="335.04" width="6.71" height="6.72" fill="#ffffff" />
<text x="146.67" y="340.69" font-size="5.6" fill="#4d4038" stroke="#4d4038" stroke-width="0.112" text-anchor="middle">0</text>
<rect x="150.03" y="335.04" width="6.71" height="6.72" fill="#ffffff" />
<text x="153.38" y="340.69" font-size="5.6" fill="#4d4038" stroke="#4d4038" stroke-width="0.112" text-anchor="middle">0</text>
<rect x="156.74" y="335.04" width="6.71" height="6.72" fill="#ffffff" />
<text x="160.09" y="340.69" font-size="5.6" fill="#4d4038" stroke="#4d4038" stroke-width="0.112" text-anchor="middle">0</text>
<text x="56.40" y="340.69" font-size="5.6" fill="#4a4a4a" stroke="#4a4a4a" stroke-width="0.112" text-anchor="end">Fever</text>
<line x1="58.60" y1="338.40" x2="61.80" y2="338.40" stroke="#333" stroke-width="1.2" />
<rect x="76.22" y="341.76" width="6.71" height="6.72" fill="#ffffff" />
<text x="79.58" y="347.41" font-size="5.6" fill="#4d4038" stroke="#4d4038" stroke-width="0.112" text-anchor="middle">0</text>
<rect x="82.93" y="341.76" width="6.71" height="6.72" fill="#e5b28a" />
<text x="86.28" y="347.41" font-size="5.6" fill="#4d4038" stroke="#4d4038" stroke-width="0.112" text-anchor="middle">2</text>
<rect x="89.64" y="341.76" width="6.71" height="6.72" fill="#ffffff" />
<text x="93.00" y="347.41" font-size="5.6" fill="#4d4038" stroke="#4d4038" stroke-width="0.112" text-anchor="middle">0</text>
<rect x="96.35" y="341.76" width="6.71" height="6.72" fill="#ffffff" />
<text x="99.70" y="347.41" font-size="5.6" fill="#4d4038" stroke="#4d4038" stroke-width="0.112" text-anchor="middle">0</text>
<rect x="103.06" y="341.76" width="6.71" height="6.72" fill="#ffffff" />
<text x="106.42" y="347.41" font-size="5.6" fill="#4d4038" stroke="#4d4038" stroke-width="0.112" text-anchor="middle">0</text>
<rect x="109.77" y="341.76" width="6.71" height="6.72" fill="#cd7d45" />
<text x="113.12" y="347.41" font-size="5.6" fill="#4d4038" stroke="#4d4038" stroke-width="0.112" text-anchor="middle">3</text>
<rect x="116.48" y="341.76" width="6.71" height="6.72" fill="#b64f1f" />
<text x="119.83" y="347.41" font-size="5.6" fill="#4d4038" stroke="#4d4038" stroke-width="0.112" text-anchor="middle">4</text>
<rect x="123.19" y="341.76" width="6.71" height="6.72" fill="#cd7d45" />
<text x="126.55" y="347.41" font-size="5.6" fill="#4d4038" stroke="#4d4038" stroke-width="0.112" text-anchor="middle">3</text>
<rect x="129.90" y="341.76" width="6.71" height="6.72" fill="#ffffff" />
<text x="133.25" y="347.41" font-size="5.6" fill="#4d4038" stroke="#4d4038" stroke-width="0.112" text-anchor="middle">0</text>
<rect x="136.61" y="341.76" width="6.71" height="6.72" fill="#ffffff" />
<text x="139.97" y="347.41" font-size="5.6" fill="#4d4038" stroke="#4d4038" stroke-width="0.112" text-anchor="middle">0</text>
<rect x="143.32" y="341.76" width="6.71" height="6.72" fill="#e5b28a" />
<text x="146.67" y="347.41" font-size="5.6" fill="#4d4038" stroke="#4d4038" stroke-width="0.112" text-anchor="middle">2</text>
<rect x="150.03" y="341.76" width="6.71" height="6.72" fill="#e5b28a" />
<text x="153.38" y="347.41" font-size="5.6" fill="#4d4038" stroke="#4d4038" stroke-width="0.112" text-anchor="middle">2</text>
<rect x="156.74" y="341.76" width="6.71" height="6.72" fill="#ffffff" />
<text x="160.09" y="347.41" font-size="5.6" fill="#4d4038" stroke="#4d4038" stroke-width="0.112" text-anchor="middle">0</text>
<text x="56.40" y="347.41" font-size="5.6" fill="#4a4a4a" stroke="#4a4a4a" stroke-width="0.112" text-anchor="end">Hypotension</text>
<line x1="58.60" y1="345.12" x2="61.80" y2="345.12" stroke="#333" stroke-width="1.2" />
<rect x="76.22" y="348.48" width="6.71" height="6.72" fill="#ffffff" />
<text x="79.58" y="354.13" font-size="5.6" fill="#4d4038" stroke="#4d4038" stroke-width="0.112" text-anchor="middle">0</text>
<rect x="82.93" y="348.48" width="6.71" height="6.72" fill="#e5b28a" />
<text x="86.28" y="354.13" font-size="5.6" fill="#4d4038" stroke="#4d4038" stroke-width="0.112" text-anchor="middle">2</text>
<rect x="89.64" y="348.48" width="6.71" height="6.72" fill="#e5b28a" />
<text x="93.00" y="354.13" font-size="5.6" fill="#4d4038" stroke="#4d4038" stroke-width="0.112" text-anchor="middle">2</text>
<rect x="96.35" y="348.48" width="6.71" height="6.72" fill="#e5b28a" />
<text x="99.70" y="354.13" font-size="5.6" fill="#4d4038" stroke="#4d4038" stroke-width="0.112" text-anchor="middle">2</text>
<rect x="103.06" y="348.48" width="6.71" height="6.72" fill="#ffffff" />
<text x="106.42" y="354.13" font-size="5.6" fill="#4d4038" stroke="#4d4038" stroke-width="0.112" text-anchor="middle">0</text>
<rect x="109.77" y="348.48" width="6.71" height="6.72" fill="#cd7d45" />
<text x="113.12" y="354.13" font-size="5.6" fill="#4d4038" stroke="#4d4038" stroke-width="0.112" text-anchor="middle">3</text>
<rect x="116.48" y="348.48" width="6.71" height="6.72" fill="#b64f1f" />
<text x="119.83" y="354.13" font-size="5.6" fill="#4d4038" stroke="#4d4038" stroke-width="0.112" text-anchor="middle">4</text>
<rect x="123.19" y="348.48" width="6.71" height="6.72" fill="#b64f1f" />
<text x="126.55" y="354.13" font-size="5.6" fill="#4d4038" stroke="#4d4038" stroke-width="0.112" text-anchor="middle">4</text>
<rect x="129.90" y="348.48" width="6.71" height="6.72" fill="#e5b28a" />
<text x="133.25" y="354.13" font-size="5.6" fill="#4d4038" stroke="#4d4038" stroke-width="0.112" text-anchor="middle">2</text>
<rect x="136.61" y="348.48" width="6.71" height="6.72" fill="#e5b28a" />
<text x="139.97" y="354.13" font-size="5.6" fill="#4d4038" stroke="#4d4038" stroke-width="0.112" text-anchor="middle">2</text>
<rect x="143.32" y="348.48" width="6.71" height="6.72" fill="#e5b28a" />
<text x="146.67" y="354.13" font-size="5.6" fill="#4d4038" stroke="#4d4038" stroke-width="0.112" text-anchor="middle">2</text>
<rect x="150.03" y="348.48" width="6.71" height="6.72" fill="#e5b28a" />
<text x="153.38" y="354.13" font-size="5.6" fill="#4d4038" stroke="#4d4038" stroke-width="0.112" text-anchor="middle">2</text>
<rect x="156.74" y="348.48" width="6.71" height="6.72" fill="#e5b28a" />
<text x="160.09" y="354.13" font-size="5.6" fill="#4d4038" stroke="#4d4038" stroke-width="0.112" text-anchor="middle">2</text>
<text x="56.40" y="354.13" font-size="5.6" fill="#4a4a4a" stroke="#4a4a4a" stroke-width="0.112" text-anchor="end">Hypoxia</text>
<line x1="58.60" y1="351.84" x2="61.80" y2="351.84" stroke="#333" stroke-width="1.2" />
<line x1="76.22" y1="321.60" x2="76.22" y2="355.20" stroke="#ffffff" stroke-width="0.35" />
<line x1="82.93" y1="321.60" x2="82.93" y2="355.20" stroke="#ffffff" stroke-width="0.35" />
<line x1="89.64" y1="321.60" x2="89.64" y2="355.20" stroke="#ffffff" stroke-width="0.35" />
<line x1="96.35" y1="321.60" x2="96.35" y2="355.20" stroke="#ffffff" stroke-width="0.35" />
<line x1="103.06" y1="321.60" x2="103.06" y2="355.20" stroke="#ffffff" stroke-width="0.35" />
<line x1="109.77" y1="321.60" x2="109.77" y2="355.20" stroke="#ffffff" stroke-width="0.35" />
<line x1="116.48" y1="321.60" x2="116.48" y2="355.20" stroke="#ffffff" stroke-width="0.35" />
<line x1="123.19" y1="321.60" x2="123.19" y2="355.20" stroke="#ffffff" stroke-width="0.35" />
<line x1="129.90" y1="321.60" x2="129.90" y2="355.20" stroke="#ffffff" stroke-width="0.35" />
<line x1="136.61" y1="321.60" x2="136.61" y2="355.20" stroke="#ffffff" stroke-width="0.35" />
<line x1="143.32" y1="321.60" x2="143.32" y2="355.20" stroke="#ffffff" stroke-width="0.35" />
<line x1="150.03" y1="321.60" x2="150.03" y2="355.20" stroke="#ffffff" stroke-width="0.35" />
<line x1="156.74" y1="321.60" x2="156.74" y2="355.20" stroke="#ffffff" stroke-width="0.35" />
<line x1="76.22" y1="328.32" x2="163.45" y2="328.32" stroke="#ffffff" stroke-width="0.35" />
<line x1="76.22" y1="335.04" x2="163.45" y2="335.04" stroke="#ffffff" stroke-width="0.35" />
<line x1="76.22" y1="341.76" x2="163.45" y2="341.76" stroke="#ffffff" stroke-width="0.35" />
<line x1="76.22" y1="348.48" x2="163.45" y2="348.48" stroke="#ffffff" stroke-width="0.35" />
<rect x="62.80" y="321.60" width="100.65" height="33.60" fill="none" stroke="#1a1a1a" stroke-width="1.2"/>
<rect x="76.22" y="358.60" width="6.71" height="6.70" fill="#f6e4e4" />
<rect x="82.93" y="358.60" width="6.71" height="6.70" fill="#f6e4e4" />
<rect x="89.64" y="358.60" width="6.71" height="6.70" fill="#efcccc" />
<rect x="96.35" y="358.60" width="6.71" height="6.70" fill="#dde7f4" />
<rect x="103.06" y="358.60" width="6.71" height="6.70" fill="#dde7f4" />
<rect x="109.77" y="358.60" width="6.71" height="6.70" fill="#dde7f4" />
<rect x="116.48" y="358.60" width="6.71" height="6.70" fill="#ffffff" />
<rect x="123.19" y="358.60" width="6.71" height="6.70" fill="#ffffff" />
<rect x="129.90" y="358.60" width="6.71" height="6.70" fill="#dde7f4" />
<rect x="136.61" y="358.60" width="6.71" height="6.70" fill="#dde7f4" />
<rect x="143.32" y="358.60" width="6.71" height="6.70" fill="#dde7f4" />
<rect x="150.03" y="358.60" width="6.71" height="6.70" fill="#dde7f4" />
<rect x="156.74" y="358.60" width="6.71" height="6.70" fill="#c8d8ef" />
<text x="56.40" y="364.24" font-size="5.6" fill="#4a4a4a" stroke="#4a4a4a" stroke-width="0.112" text-anchor="end">CRP</text>
<line x1="58.60" y1="361.95" x2="61.80" y2="361.95" stroke="#333" stroke-width="1.2" />
<rect x="76.22" y="365.30" width="6.71" height="6.70" fill="#ecf1f9" />
<rect x="82.93" y="365.30" width="6.71" height="6.70" fill="#ecf1f9" />
<rect x="89.64" y="365.30" width="6.71" height="6.70" fill="#ffffff" />
<rect x="96.35" y="365.30" width="6.71" height="6.70" fill="#ffffff" />
<rect x="103.06" y="365.30" width="6.71" height="6.70" fill="#ffffff" />
<rect x="109.77" y="365.30" width="6.71" height="6.70" fill="#f6e4e4" />
<rect x="116.48" y="365.30" width="6.71" height="6.70" fill="#a51f26" />
<rect x="123.19" y="365.30" width="6.71" height="6.70" fill="#a51f26" />
<rect x="129.90" y="365.30" width="6.71" height="6.70" fill="#ffffff" />
<rect x="136.61" y="365.30" width="6.71" height="6.70" fill="#ffffff" />
<rect x="143.32" y="365.30" width="6.71" height="6.70" fill="#f6e4e4" />
<rect x="150.03" y="365.30" width="6.71" height="6.70" fill="#f6e4e4" />
<rect x="156.74" y="365.30" width="6.71" height="6.70" fill="#ffffff" />
<text x="56.40" y="370.94" font-size="5.6" fill="#4a4a4a" stroke="#4a4a4a" stroke-width="0.112" text-anchor="end">Ferritin</text>
<line x1="58.60" y1="368.65" x2="61.80" y2="368.65" stroke="#333" stroke-width="1.2" />
<rect x="62.80" y="372.00" width="6.71" height="6.70" fill="#c8d8ef" />
<rect x="69.51" y="372.00" width="6.71" height="6.70" fill="#c8d8ef" />
<rect x="76.22" y="372.00" width="6.71" height="6.70" fill="#efcccc" />
<rect x="82.93" y="372.00" width="6.71" height="6.70" fill="#efcccc" />
<rect x="89.64" y="372.00" width="6.71" height="6.70" fill="#ffffff" />
<rect x="96.35" y="372.00" width="6.71" height="6.70" fill="#ecf1f9" />
<rect x="103.06" y="372.00" width="6.71" height="6.70" fill="#dde7f4" />
<rect x="109.77" y="372.00" width="6.71" height="6.70" fill="#ecf1f9" />
<rect x="116.48" y="372.00" width="6.71" height="6.70" fill="#ffffff" />
<rect x="123.19" y="372.00" width="6.71" height="6.70" fill="#dde7f4" />
<rect x="129.90" y="372.00" width="6.71" height="6.70" fill="#dde7f4" />
<rect x="136.61" y="372.00" width="6.71" height="6.70" fill="#ffffff" />
<rect x="143.32" y="372.00" width="6.71" height="6.70" fill="#ffffff" />
<rect x="150.03" y="372.00" width="6.71" height="6.70" fill="#dde7f4" />
<rect x="156.74" y="372.00" width="6.71" height="6.70" fill="#dde7f4" />
<text x="56.40" y="377.64" font-size="5.6" fill="#4a4a4a" stroke="#4a4a4a" stroke-width="0.112" text-anchor="end">IL-1&#946;</text>
<line x1="58.60" y1="375.35" x2="61.80" y2="375.35" stroke="#333" stroke-width="1.2" />
<rect x="62.80" y="378.70" width="6.71" height="6.70" fill="#f6e4e4" />
<rect x="69.51" y="378.70" width="6.71" height="6.70" fill="#dde7f4" />
<rect x="76.22" y="378.70" width="6.71" height="6.70" fill="#f6e4e4" />
<rect x="82.93" y="378.70" width="6.71" height="6.70" fill="#ecf1f9" />
<rect x="89.64" y="378.70" width="6.71" height="6.70" fill="#ffffff" />
<rect x="96.35" y="378.70" width="6.71" height="6.70" fill="#ffffff" />
<rect x="103.06" y="378.70" width="6.71" height="6.70" fill="#ffffff" />
<rect x="109.77" y="378.70" width="6.71" height="6.70" fill="#f6e4e4" />
<rect x="116.48" y="378.70" width="6.71" height="6.70" fill="#f6e4e4" />
<rect x="123.19" y="378.70" width="6.71" height="6.70" fill="#c8d8ef" />
<rect x="129.90" y="378.70" width="6.71" height="6.70" fill="#ffffff" />
<rect x="136.61" y="378.70" width="6.71" height="6.70" fill="#dde7f4" />
<rect x="143.32" y="378.70" width="6.71" height="6.70" fill="#ffffff" />
<rect x="150.03" y="378.70" width="6.71" height="6.70" fill="#dde7f4" />
<rect x="156.74" y="378.70" width="6.71" height="6.70" fill="#dde7f4" />
<text x="56.40" y="384.34" font-size="5.6" fill="#4a4a4a" stroke="#4a4a4a" stroke-width="0.112" text-anchor="end">TNF-&#945;</text>
<line x1="58.60" y1="382.05" x2="61.80" y2="382.05" stroke="#333" stroke-width="1.2" />
<rect x="62.80" y="385.40" width="6.71" height="6.70" fill="#dde7f4" />
<rect x="69.51" y="385.40" width="6.71" height="6.70" fill="#dde7f4" />
<rect x="76.22" y="385.40" width="6.71" height="6.70" fill="#f6e4e4" />
<rect x="82.93" y="385.40" width="6.71" height="6.70" fill="#efcccc" />
<rect x="89.64" y="385.40" width="6.71" height="6.70" fill="#f6e4e4" />
<rect x="96.35" y="385.40" width="6.71" height="6.70" fill="#f6e4e4" />
<rect x="103.06" y="385.40" width="6.71" height="6.70" fill="#f6e4e4" />
<rect x="109.77" y="385.40" width="6.71" height="6.70" fill="#dea4a6" />
<rect x="116.48" y="385.40" width="6.71" height="6.70" fill="#f6e4e4" />
<rect x="123.19" y="385.40" width="6.71" height="6.70" fill="#ffffff" />
<rect x="129.90" y="385.40" width="6.71" height="6.70" fill="#dde7f4" />
<rect x="136.61" y="385.40" width="6.71" height="6.70" fill="#dde7f4" />
<rect x="143.32" y="385.40" width="6.71" height="6.70" fill="#ffffff" />
<rect x="150.03" y="385.40" width="6.71" height="6.70" fill="#dde7f4" />
<rect x="156.74" y="385.40" width="6.71" height="6.70" fill="#dde7f4" />
<text x="56.40" y="391.04" font-size="5.6" fill="#4a4a4a" stroke="#4a4a4a" stroke-width="0.112" text-anchor="end">IL-10</text>
<line x1="58.60" y1="388.75" x2="61.80" y2="388.75" stroke="#333" stroke-width="1.2" />
<rect x="62.80" y="392.10" width="6.71" height="6.70" fill="#ffffff" />
<rect x="69.51" y="392.10" width="6.71" height="6.70" fill="#dde7f4" />
<rect x="76.22" y="392.10" width="6.71" height="6.70" fill="#ffffff" />
<rect x="82.93" y="392.10" width="6.71" height="6.70" fill="#ffffff" />
<rect x="89.64" y="392.10" width="6.71" height="6.70" fill="#d18588" />
<rect x="96.35" y="392.10" width="6.71" height="6.70" fill="#f6e4e4" />
<rect x="103.06" y="392.10" width="6.71" height="6.70" fill="#dea4a6" />
<rect x="109.77" y="392.10" width="6.71" height="6.70" fill="#b53337" />
<rect x="116.48" y="392.10" width="6.71" height="6.70" fill="#b53337" />
<rect x="123.19" y="392.10" width="6.71" height="6.70" fill="#dea4a6" />
<rect x="129.90" y="392.10" width="6.71" height="6.70" fill="#ffffff" />
<rect x="136.61" y="392.10" width="6.71" height="6.70" fill="#ffffff" />
<rect x="143.32" y="392.10" width="6.71" height="6.70" fill="#ecf1f9" />
<rect x="150.03" y="392.10" width="6.71" height="6.70" fill="#ffffff" />
<rect x="156.74" y="392.10" width="6.71" height="6.70" fill="#dde7f4" />
<text x="56.40" y="397.74" font-size="5.6" fill="#4a4a4a" stroke="#4a4a4a" stroke-width="0.112" text-anchor="end">IL-6</text>
<line x1="58.60" y1="395.45" x2="61.80" y2="395.45" stroke="#333" stroke-width="1.2" />
<rect x="62.80" y="398.80" width="6.71" height="6.70" fill="#c8d8ef" />
<rect x="69.51" y="398.80" width="6.71" height="6.70" fill="#c8d8ef" />
<rect x="76.22" y="398.80" width="6.71" height="6.70" fill="#ffffff" />
<rect x="82.93" y="398.80" width="6.71" height="6.70" fill="#f6e4e4" />
<rect x="89.64" y="398.80" width="6.71" height="6.70" fill="#ffffff" />
<rect x="96.35" y="398.80" width="6.71" height="6.70" fill="#dde7f4" />
<rect x="103.06" y="398.80" width="6.71" height="6.70" fill="#ecf1f9" />
<rect x="109.77" y="398.80" width="6.71" height="6.70" fill="#ffffff" />
<rect x="116.48" y="398.80" width="6.71" height="6.70" fill="#ffffff" />
<rect x="123.19" y="398.80" width="6.71" height="6.70" fill="#dde7f4" />
<rect x="129.90" y="398.80" width="6.71" height="6.70" fill="#dde7f4" />
<rect x="136.61" y="398.80" width="6.71" height="6.70" fill="#dde7f4" />
<rect x="143.32" y="398.80" width="6.71" height="6.70" fill="#ffffff" />
<rect x="150.03" y="398.80" width="6.71" height="6.70" fill="#dde7f4" />
<rect x="156.74" y="398.80" width="6.71" height="6.70" fill="#dde7f4" />
<text x="56.40" y="404.44" font-size="5.6" fill="#4a4a4a" stroke="#4a4a4a" stroke-width="0.112" text-anchor="end">IL-12</text>
<line x1="58.60" y1="402.15" x2="61.80" y2="402.15" stroke="#333" stroke-width="1.2" />
<rect x="62.80" y="405.50" width="6.71" height="6.70" fill="#ffffff" />
<rect x="69.51" y="405.50" width="6.71" height="6.70" fill="#ecf1f9" />
<rect x="76.22" y="405.50" width="6.71" height="6.70" fill="#f6e4e4" />
<rect x="82.93" y="405.50" width="6.71" height="6.70" fill="#dea4a6" />
<rect x="89.64" y="405.50" width="6.71" height="6.70" fill="#dea4a6" />
<rect x="96.35" y="405.50" width="6.71" height="6.70" fill="#f6e4e4" />
<rect x="103.06" y="405.50" width="6.71" height="6.70" fill="#f6e4e4" />
<rect x="109.77" y="405.50" width="6.71" height="6.70" fill="#dea4a6" />
<rect x="116.48" y="405.50" width="6.71" height="6.70" fill="#efcccc" />
<rect x="123.19" y="405.50" width="6.71" height="6.70" fill="#ffffff" />
<rect x="129.90" y="405.50" width="6.71" height="6.70" fill="#dde7f4" />
<rect x="136.61" y="405.50" width="6.71" height="6.70" fill="#dde7f4" />
<rect x="143.32" y="405.50" width="6.71" height="6.70" fill="#ffffff" />
<rect x="150.03" y="405.50" width="6.71" height="6.70" fill="#dde7f4" />
<rect x="156.74" y="405.50" width="6.71" height="6.70" fill="#dde7f4" />
<text x="56.40" y="411.14" font-size="5.6" fill="#4a4a4a" stroke="#4a4a4a" stroke-width="0.112" text-anchor="end">MCP-1</text>
<line x1="58.60" y1="408.85" x2="61.80" y2="408.85" stroke="#333" stroke-width="1.2" />
<rect x="62.80" y="412.20" width="6.71" height="6.70" fill="#c8d8ef" />
<rect x="69.51" y="412.20" width="6.71" height="6.70" fill="#dde7f4" />
<rect x="76.22" y="412.20" width="6.71" height="6.70" fill="#ffffff" />
<rect x="82.93" y="412.20" width="6.71" height="6.70" fill="#ffffff" />
<rect x="89.64" y="412.20" width="6.71" height="6.70" fill="#ecf1f9" />
<rect x="96.35" y="412.20" width="6.71" height="6.70" fill="#dde7f4" />
<rect x="103.06" y="412.20" width="6.71" height="6.70" fill="#ffffff" />
<rect x="109.77" y="412.20" width="6.71" height="6.70" fill="#b53337" />
<rect x="116.48" y="412.20" width="6.71" height="6.70" fill="#dea4a6" />
<rect x="123.19" y="412.20" width="6.71" height="6.70" fill="#f6e4e4" />
<rect x="129.90" y="412.20" width="6.71" height="6.70" fill="#ffffff" />
<rect x="136.61" y="412.20" width="6.71" height="6.70" fill="#dde7f4" />
<rect x="143.32" y="412.20" width="6.71" height="6.70" fill="#f6e4e4" />
<rect x="150.03" y="412.20" width="6.71" height="6.70" fill="#f6e4e4" />
<rect x="156.74" y="412.20" width="6.71" height="6.70" fill="#f6e4e4" />
<text x="56.40" y="417.84" font-size="5.6" fill="#4a4a4a" stroke="#4a4a4a" stroke-width="0.112" text-anchor="end">IFN-&#947;</text>
<line x1="58.60" y1="415.55" x2="61.80" y2="415.55" stroke="#333" stroke-width="1.2" />
<rect x="62.80" y="418.90" width="6.71" height="6.70" fill="#dde7f4" />
<rect x="69.51" y="418.90" width="6.71" height="6.70" fill="#dde7f4" />
<rect x="76.22" y="418.90" width="6.71" height="6.70" fill="#dde7f4" />
<rect x="82.93" y="418.90" width="6.71" height="6.70" fill="#a51f26" />
<rect x="89.64" y="418.90" width="6.71" height="6.70" fill="#dea4a6" />
<rect x="96.35" y="418.90" width="6.71" height="6.70" fill="#f6e4e4" />
<rect x="103.06" y="418.90" width="6.71" height="6.70" fill="#ffffff" />
<rect x="109.77" y="418.90" width="6.71" height="6.70" fill="#ffffff" />
<rect x="116.48" y="418.90" width="6.71" height="6.70" fill="#dde7f4" />
<rect x="123.19" y="418.90" width="6.71" height="6.70" fill="#dde7f4" />
<rect x="129.90" y="418.90" width="6.71" height="6.70" fill="#dde7f4" />
<rect x="136.61" y="418.90" width="6.71" height="6.70" fill="#dde7f4" />
<rect x="143.32" y="418.90" width="6.71" height="6.70" fill="#dde7f4" />
<rect x="150.03" y="418.90" width="6.71" height="6.70" fill="#dde7f4" />
<rect x="156.74" y="418.90" width="6.71" height="6.70" fill="#dde7f4" />
<text x="56.40" y="424.54" font-size="5.6" fill="#4a4a4a" stroke="#4a4a4a" stroke-width="0.112" text-anchor="end">IL-2</text>
<line x1="58.60" y1="422.25" x2="61.80" y2="422.25" stroke="#333" stroke-width="1.2" />
<rect x="62.80" y="425.60" width="6.71" height="6.70" fill="#dde7f4" />
<rect x="69.51" y="425.60" width="6.71" height="6.70" fill="#dde7f4" />
<rect x="76.22" y="425.60" width="6.71" height="6.70" fill="#dea4a6" />
<rect x="82.93" y="425.60" width="6.71" height="6.70" fill="#dea4a6" />
<rect x="89.64" y="425.60" width="6.71" height="6.70" fill="#f6e4e4" />
<rect x="96.35" y="425.60" width="6.71" height="6.70" fill="#ffffff" />
<rect x="103.06" y="425.60" width="6.71" height="6.70" fill="#ffffff" />
<rect x="109.77" y="425.60" width="6.71" height="6.70" fill="#f6e4e4" />
<rect x="116.48" y="425.60" width="6.71" height="6.70" fill="#ffffff" />
<rect x="123.19" y="425.60" width="6.71" height="6.70" fill="#dde7f4" />
<rect x="129.90" y="425.60" width="6.71" height="6.70" fill="#dde7f4" />
<rect x="136.61" y="425.60" width="6.71" height="6.70" fill="#dde7f4" />
<rect x="143.32" y="425.60" width="6.71" height="6.70" fill="#ffffff" />
<rect x="150.03" y="425.60" width="6.71" height="6.70" fill="#dde7f4" />
<rect x="156.74" y="425.60" width="6.71" height="6.70" fill="#dde7f4" />
<text x="56.40" y="431.24" font-size="5.6" fill="#4a4a4a" stroke="#4a4a4a" stroke-width="0.112" text-anchor="end">IL-8</text>
<line x1="58.60" y1="428.95" x2="61.80" y2="428.95" stroke="#333" stroke-width="1.2" />
<rect x="62.80" y="432.30" width="6.71" height="6.70" fill="#dde7f4" />
<rect x="69.51" y="432.30" width="6.71" height="6.70" fill="#c8d8ef" />
<rect x="76.22" y="432.30" width="6.71" height="6.70" fill="#dea4a6" />
<rect x="82.93" y="432.30" width="6.71" height="6.70" fill="#dea4a6" />
<rect x="89.64" y="432.30" width="6.71" height="6.70" fill="#f6e4e4" />
<rect x="96.35" y="432.30" width="6.71" height="6.70" fill="#f6e4e4" />
<rect x="103.06" y="432.30" width="6.71" height="6.70" fill="#f6e4e4" />
<rect x="109.77" y="432.30" width="6.71" height="6.70" fill="#dea4a6" />
<rect x="116.48" y="432.30" width="6.71" height="6.70" fill="#f6e4e4" />
<rect x="123.19" y="432.30" width="6.71" height="6.70" fill="#dde7f4" />
<rect x="129.90" y="432.30" width="6.71" height="6.70" fill="#dde7f4" />
<rect x="136.61" y="432.30" width="6.71" height="6.70" fill="#c8d8ef" />
<rect x="143.32" y="432.30" width="6.71" height="6.70" fill="#dde7f4" />
<rect x="150.03" y="432.30" width="6.71" height="6.70" fill="#dde7f4" />
<rect x="156.74" y="432.30" width="6.71" height="6.70" fill="#dde7f4" />
<text x="56.40" y="437.94" font-size="5.6" fill="#4a4a4a" stroke="#4a4a4a" stroke-width="0.112" text-anchor="end">IL-17A</text>
<line x1="58.60" y1="435.65" x2="61.80" y2="435.65" stroke="#333" stroke-width="1.2" />
<rect x="62.80" y="358.60" width="13.42" height="13.40" fill="url(#xh2)" />
<line x1="69.51" y1="358.60" x2="69.51" y2="439.00" stroke="#9c9c9c" stroke-width="0.45" />
<line x1="76.22" y1="358.60" x2="76.22" y2="439.00" stroke="#9c9c9c" stroke-width="0.45" />
<line x1="82.93" y1="358.60" x2="82.93" y2="439.00" stroke="#9c9c9c" stroke-width="0.45" />
<line x1="89.64" y1="358.60" x2="89.64" y2="439.00" stroke="#9c9c9c" stroke-width="0.45" />
<line x1="96.35" y1="358.60" x2="96.35" y2="439.00" stroke="#9c9c9c" stroke-width="0.45" />
<line x1="103.06" y1="358.60" x2="103.06" y2="439.00" stroke="#9c9c9c" stroke-width="0.45" />
<line x1="109.77" y1="358.60" x2="109.77" y2="439.00" stroke="#9c9c9c" stroke-width="0.45" />
<line x1="116.48" y1="358.60" x2="116.48" y2="439.00" stroke="#9c9c9c" stroke-width="0.45" />
<line x1="123.19" y1="358.60" x2="123.19" y2="439.00" stroke="#9c9c9c" stroke-width="0.45" />
<line x1="129.90" y1="358.60" x2="129.90" y2="439.00" stroke="#9c9c9c" stroke-width="0.45" />
<line x1="136.61" y1="358.60" x2="136.61" y2="439.00" stroke="#9c9c9c" stroke-width="0.45" />
<line x1="143.32" y1="358.60" x2="143.32" y2="439.00" stroke="#9c9c9c" stroke-width="0.45" />
<line x1="150.03" y1="358.60" x2="150.03" y2="439.00" stroke="#9c9c9c" stroke-width="0.45" />
<line x1="156.74" y1="358.60" x2="156.74" y2="439.00" stroke="#9c9c9c" stroke-width="0.45" />
<line x1="62.80" y1="365.30" x2="163.45" y2="365.30" stroke="#9c9c9c" stroke-width="0.45" />
<line x1="62.80" y1="372.00" x2="163.45" y2="372.00" stroke="#9c9c9c" stroke-width="0.45" />
<line x1="62.80" y1="378.70" x2="163.45" y2="378.70" stroke="#9c9c9c" stroke-width="0.45" />
<line x1="62.80" y1="385.40" x2="163.45" y2="385.40" stroke="#9c9c9c" stroke-width="0.45" />
<line x1="62.80" y1="392.10" x2="163.45" y2="392.10" stroke="#9c9c9c" stroke-width="0.45" />
<line x1="62.80" y1="398.80" x2="163.45" y2="398.80" stroke="#9c9c9c" stroke-width="0.45" />
<line x1="62.80" y1="405.50" x2="163.45" y2="405.50" stroke="#9c9c9c" stroke-width="0.45" />
<line x1="62.80" y1="412.20" x2="163.45" y2="412.20" stroke="#9c9c9c" stroke-width="0.45" />
<line x1="62.80" y1="418.90" x2="163.45" y2="418.90" stroke="#9c9c9c" stroke-width="0.45" />
<line x1="62.80" y1="425.60" x2="163.45" y2="425.60" stroke="#9c9c9c" stroke-width="0.45" />
<line x1="62.80" y1="432.30" x2="163.45" y2="432.30" stroke="#9c9c9c" stroke-width="0.45" />
<line x1="62.80" y1="372.00" x2="163.45" y2="372.00" stroke="#777" stroke-width="0.5" />
<rect x="62.80" y="358.60" width="100.65" height="80.40" fill="none" stroke="#1a1a1a" stroke-width="1.2"/>
<line x1="66.16" y1="439.00" x2="66.16" y2="441.60" stroke="#333" stroke-width="0.9" />
<text x="66.16" y="450.22" font-size="5.4" fill="#333" stroke="#333" stroke-width="0.108" text-anchor="middle">-5</text>
<line x1="72.86" y1="439.00" x2="72.86" y2="441.60" stroke="#333" stroke-width="0.9" />
<text x="72.86" y="450.22" font-size="5.4" fill="#333" stroke="#333" stroke-width="0.108" text-anchor="middle">-2</text>
<line x1="79.58" y1="439.00" x2="79.58" y2="441.60" stroke="#333" stroke-width="0.9" />
<text x="79.58" y="450.22" font-size="5.4" fill="#333" stroke="#333" stroke-width="0.108" text-anchor="middle">0</text>
<line x1="86.28" y1="439.00" x2="86.28" y2="441.60" stroke="#333" stroke-width="0.9" />
<text x="86.28" y="450.22" font-size="5.4" fill="#333" stroke="#333" stroke-width="0.108" text-anchor="middle">1</text>
<line x1="93.00" y1="439.00" x2="93.00" y2="441.60" stroke="#333" stroke-width="0.9" />
<text x="93.00" y="450.22" font-size="5.4" fill="#333" stroke="#333" stroke-width="0.108" text-anchor="middle">2</text>
<line x1="99.70" y1="439.00" x2="99.70" y2="441.60" stroke="#333" stroke-width="0.9" />
<text x="99.70" y="450.22" font-size="5.4" fill="#333" stroke="#333" stroke-width="0.108" text-anchor="middle">5</text>
<line x1="106.42" y1="439.00" x2="106.42" y2="441.60" stroke="#333" stroke-width="0.9" />
<text x="106.42" y="450.22" font-size="5.4" fill="#333" stroke="#333" stroke-width="0.108" text-anchor="middle">6</text>
<line x1="113.12" y1="439.00" x2="113.12" y2="441.60" stroke="#333" stroke-width="0.9" />
<text x="113.12" y="450.22" font-size="5.4" fill="#333" stroke="#333" stroke-width="0.108" text-anchor="middle">7</text>
<line x1="119.83" y1="439.00" x2="119.83" y2="441.60" stroke="#333" stroke-width="0.9" />
<text x="119.83" y="450.22" font-size="5.4" fill="#333" stroke="#333" stroke-width="0.108" text-anchor="middle">8</text>
<line x1="126.55" y1="439.00" x2="126.55" y2="441.60" stroke="#333" stroke-width="0.9" />
<text x="126.55" y="450.22" font-size="5.4" fill="#333" stroke="#333" stroke-width="0.108" text-anchor="middle">9</text>
<line x1="133.25" y1="439.00" x2="133.25" y2="441.60" stroke="#333" stroke-width="0.9" />
<text x="133.25" y="450.22" font-size="5.4" fill="#333" stroke="#333" stroke-width="0.108" text-anchor="middle">13</text>
<line x1="139.97" y1="439.00" x2="139.97" y2="441.60" stroke="#333" stroke-width="0.9" />
<text x="139.97" y="450.22" font-size="5.4" fill="#333" stroke="#333" stroke-width="0.108" text-anchor="middle">14</text>
<line x1="146.67" y1="439.00" x2="146.67" y2="441.60" stroke="#333" stroke-width="0.9" />
<text x="146.67" y="450.22" font-size="5.4" fill="#333" stroke="#333" stroke-width="0.108" text-anchor="middle">15</text>
<line x1="153.38" y1="439.00" x2="153.38" y2="441.60" stroke="#333" stroke-width="0.9" />
<text x="153.38" y="450.22" font-size="5.4" fill="#333" stroke="#333" stroke-width="0.108" text-anchor="middle">16</text>
<line x1="160.09" y1="439.00" x2="160.09" y2="441.60" stroke="#333" stroke-width="0.9" />
<text x="160.09" y="450.22" font-size="5.4" fill="#333" stroke="#333" stroke-width="0.108" text-anchor="middle">19</text>
<text x="113.90" y="461.33" font-size="7.4" fill="#333" stroke="#333" stroke-width="0.148" text-anchor="middle" textLength="30" lengthAdjust="spacingAndGlyphs">Time (day)</text>
<path d="M25.8,322.8 L22.4,322.8 L22.4,368.2 L25.8,368.2" fill="none" stroke="#333" stroke-width="1.1" />
<path d="M25.8,375.3 L22.4,375.3 L22.4,435.6 L25.8,435.6" fill="none" stroke="#333" stroke-width="1.1" />
<g transform="translate(16.90,346.00) rotate(-90)"><text x="0" y="2.06" font-size="5.8" fill="#444" stroke="#444" stroke-width="0.116" text-anchor="middle" textLength="38" lengthAdjust="spacingAndGlyphs">Clinical Markers</text></g>
<g transform="translate(16.90,405.20) rotate(-90)"><text x="0" y="2.06" font-size="5.8" fill="#444" stroke="#444" stroke-width="0.116" text-anchor="middle" textLength="23.7" lengthAdjust="spacingAndGlyphs">Cytokines</text></g>
<rect x="173.4" y="357.9" width="8.6" height="81.6" fill="url(#zbar)" stroke="#555" stroke-width="0.4"/>
<line x1="180.60" y1="366.20" x2="183.20" y2="366.20" stroke="#333" stroke-width="0.8" />
<text x="186.90" y="368.42" font-size="5.4" fill="#333" stroke="#333" stroke-width="0.108">6</text>
<line x1="180.60" y1="382.60" x2="183.20" y2="382.60" stroke="#333" stroke-width="0.8" />
<text x="186.90" y="384.82" font-size="5.4" fill="#333" stroke="#333" stroke-width="0.108">4</text>
<line x1="180.60" y1="399.00" x2="183.20" y2="399.00" stroke="#333" stroke-width="0.8" />
<text x="186.90" y="401.22" font-size="5.4" fill="#333" stroke="#333" stroke-width="0.108">2</text>
<line x1="180.60" y1="415.40" x2="183.20" y2="415.40" stroke="#333" stroke-width="0.8" />
<text x="186.90" y="417.62" font-size="5.4" fill="#333" stroke="#333" stroke-width="0.108">0</text>
<line x1="180.60" y1="431.80" x2="183.20" y2="431.80" stroke="#333" stroke-width="0.8" />
<text x="186.90" y="434.02" font-size="5.4" fill="#333" stroke="#333" stroke-width="0.108">-2</text>
<text x="177.50" y="446.55" font-size="5.2" fill="#333" stroke="#333" stroke-width="0.104" text-anchor="middle" textLength="20" lengthAdjust="spacingAndGlyphs">(z-score)</text>
<text x="183.00" y="341.79" font-size="5.6" fill="#333" stroke="#333" stroke-width="0.112" text-anchor="middle" textLength="25.5" lengthAdjust="spacingAndGlyphs">Cytokines,</text>
<text x="183.00" y="348.09" font-size="5.6" fill="#333" stroke="#333" stroke-width="0.112" text-anchor="middle" textLength="31.5" lengthAdjust="spacingAndGlyphs">CRP; Ferritin</text>
<text x="183.00" y="354.39" font-size="5.6" fill="#333" stroke="#333" stroke-width="0.112" text-anchor="middle" textLength="26" lengthAdjust="spacingAndGlyphs">Abundance</text>
<text x="202.20" y="380.09" font-size="5.6" fill="#333" stroke="#333" stroke-width="0.112" text-anchor="middle" textLength="18" lengthAdjust="spacingAndGlyphs">Clinical</text>
<text x="202.20" y="386.69" font-size="5.6" fill="#333" stroke="#333" stroke-width="0.112" text-anchor="middle" textLength="14" lengthAdjust="spacingAndGlyphs">Grade</text>
<rect x="196.9" y="429.28" width="10.5" height="10.42" fill="#ffffff" stroke="#9a9a9a" stroke-width="0.4"/>
<text x="202.15" y="436.84" font-size="5.8" fill="#333" stroke="#333" stroke-width="0.116" text-anchor="middle">0</text>
<rect x="196.9" y="418.86" width="10.5" height="10.42" fill="#f5dac6" stroke="#9a9a9a" stroke-width="0.4"/>
<text x="202.15" y="426.42" font-size="5.8" fill="#333" stroke="#333" stroke-width="0.116" text-anchor="middle">1</text>
<rect x="196.9" y="408.44" width="10.5" height="10.42" fill="#e5b28a" stroke="#9a9a9a" stroke-width="0.4"/>
<text x="202.15" y="416.00" font-size="5.8" fill="#333" stroke="#333" stroke-width="0.116" text-anchor="middle">2</text>
<rect x="196.9" y="398.02" width="10.5" height="10.42" fill="#cd7d45" stroke="#9a9a9a" stroke-width="0.4"/>
<text x="202.15" y="405.58" font-size="5.8" fill="#333" stroke="#333" stroke-width="0.116" text-anchor="middle">3</text>
<rect x="196.9" y="387.60" width="10.5" height="10.42" fill="#b64f1f" stroke="#9a9a9a" stroke-width="0.4"/>
<text x="202.15" y="395.16" font-size="5.8" fill="#ffffff" stroke="#ffffff" stroke-width="0.116" text-anchor="middle">4</text>
<text x="221.50" y="416.89" font-size="5.6" fill="#333" stroke="#333" stroke-width="0.112" text-anchor="middle" textLength="13.5" lengthAdjust="spacingAndGlyphs">Fever</text>
<rect x="216.3" y="429.50" width="10.3" height="10.2" fill="#ffffff" stroke="#9a9a9a" stroke-width="0.4"/>
<text x="221.45" y="436.96" font-size="5.8" fill="#333" stroke="#333" stroke-width="0.116" text-anchor="middle">0</text>
<rect x="216.3" y="419.30" width="10.3" height="10.2" fill="#f5dac6" stroke="#9a9a9a" stroke-width="0.4"/>
<text x="221.45" y="426.76" font-size="5.8" fill="#333" stroke="#333" stroke-width="0.116" text-anchor="middle">1</text>
<text x="229.80" y="427.02" font-size="5.4" fill="#333" stroke="#333" stroke-width="0.108" textLength="14.5" lengthAdjust="spacingAndGlyphs">&#8805;38 &#176;C</text>
<text x="229.80" y="437.22" font-size="5.4" fill="#333" stroke="#333" stroke-width="0.108" textLength="14.5" lengthAdjust="spacingAndGlyphs">&lt;38 &#176;C</text>
<rect x="367.81" y="327.40" width="23.43" height="93.10" fill="#e9e9ec" />
<rect x="346.80" y="327.60" width="4.11" height="92.90" fill="#e8edf5" />
<line x1="319.03" y1="332.00" x2="319.03" y2="420.50" stroke="#98a8c8" stroke-width="0.8" />
<line x1="346.80" y1="327.60" x2="346.80" y2="420.50" stroke="#98a8c8" stroke-width="0.8" />
<line x1="350.91" y1="327.60" x2="350.91" y2="420.50" stroke="#98a8c8" stroke-width="0.8" />
<line x1="353.23" y1="329.60" x2="353.23" y2="420.50" stroke="#f3c95e" stroke-width="0.9" />
<line x1="367.33" y1="328.20" x2="367.33" y2="420.50" stroke="#f3c95e" stroke-width="0.9" />
<text x="306.20" y="321.30" font-size="6.2" fill="#4a64a4" stroke="#4a64a4" stroke-width="0.124" text-anchor="middle" textLength="27.8" lengthAdjust="spacingAndGlyphs">Tocilizumab</text>
<text x="357.40" y="321.30" font-size="6.2" fill="#eeb73a" stroke="#eeb73a" stroke-width="0.124" text-anchor="middle" textLength="23" lengthAdjust="spacingAndGlyphs">Infliximab</text>
<text x="396.40" y="321.30" font-size="6.2" fill="#8a8a8a" stroke="#8a8a8a" stroke-width="0.124" text-anchor="middle" textLength="26.8" lengthAdjust="spacingAndGlyphs">On Steroid</text>
<line x1="310.60" y1="324.20" x2="318.70" y2="332.10" stroke="#3c5594" stroke-width="0.7" />
<path d="M318.70,332.10 L316.80,331.47 L318.02,330.22 Z" fill="#3c5594" />
<line x1="317.50" y1="323.80" x2="346.90" y2="332.50" stroke="#3c5594" stroke-width="0.7" />
<path d="M346.90,332.50 L344.93,332.82 L345.42,331.15 Z" fill="#3c5594" />
<line x1="325.10" y1="323.50" x2="349.90" y2="327.30" stroke="#3c5594" stroke-width="0.7" />
<path d="M349.90,327.30 L347.99,327.89 L348.25,326.17 Z" fill="#3c5594" />
<line x1="355.90" y1="323.50" x2="354.60" y2="329.40" stroke="#eeb73a" stroke-width="0.7" />
<path d="M354.60,329.40 L354.14,327.45 L355.84,327.83 Z" fill="#eeb73a" />
<line x1="358.50" y1="323.00" x2="366.40" y2="328.20" stroke="#eeb73a" stroke-width="0.7" />
<path d="M366.40,328.20 L364.42,327.94 L365.37,326.48 Z" fill="#eeb73a" />
<line x1="390.90" y1="322.90" x2="381.30" y2="329.00" stroke="#555" stroke-width="0.5" />
<path d="M381.30,329.00 L382.35,327.30 L383.29,328.77 Z" fill="#555" />
<line x1="281.00" y1="326.80" x2="281.00" y2="421.20" stroke="#222" stroke-width="1.5" />
<line x1="277.80" y1="420.50" x2="281.00" y2="420.50" stroke="#222" stroke-width="1" />
<text x="275.60" y="422.79" font-size="5.6" fill="#222" stroke="#222" stroke-width="0.112" text-anchor="end">10</text>
<line x1="279.30" y1="411.32" x2="281.00" y2="411.32" stroke="#222" stroke-width="0.6" />
<line x1="279.30" y1="405.95" x2="281.00" y2="405.95" stroke="#222" stroke-width="0.6" />
<line x1="279.30" y1="402.14" x2="281.00" y2="402.14" stroke="#222" stroke-width="0.6" />
<line x1="279.30" y1="399.18" x2="281.00" y2="399.18" stroke="#222" stroke-width="0.6" />
<line x1="279.30" y1="396.77" x2="281.00" y2="396.77" stroke="#222" stroke-width="0.6" />
<line x1="279.30" y1="394.72" x2="281.00" y2="394.72" stroke="#222" stroke-width="0.6" />
<line x1="279.30" y1="392.96" x2="281.00" y2="392.96" stroke="#222" stroke-width="0.6" />
<line x1="279.30" y1="391.40" x2="281.00" y2="391.40" stroke="#222" stroke-width="0.6" />
<line x1="277.80" y1="390.00" x2="281.00" y2="390.00" stroke="#222" stroke-width="1" />
<text x="275.60" y="392.29" font-size="5.6" fill="#222" stroke="#222" stroke-width="0.112" text-anchor="end">100</text>
<line x1="279.30" y1="380.82" x2="281.00" y2="380.82" stroke="#222" stroke-width="0.6" />
<line x1="279.30" y1="375.45" x2="281.00" y2="375.45" stroke="#222" stroke-width="0.6" />
<line x1="279.30" y1="371.64" x2="281.00" y2="371.64" stroke="#222" stroke-width="0.6" />
<line x1="279.30" y1="368.68" x2="281.00" y2="368.68" stroke="#222" stroke-width="0.6" />
<line x1="279.30" y1="366.27" x2="281.00" y2="366.27" stroke="#222" stroke-width="0.6" />
<line x1="279.30" y1="364.22" x2="281.00" y2="364.22" stroke="#222" stroke-width="0.6" />
<line x1="279.30" y1="362.46" x2="281.00" y2="362.46" stroke="#222" stroke-width="0.6" />
<line x1="279.30" y1="360.90" x2="281.00" y2="360.90" stroke="#222" stroke-width="0.6" />
<line x1="277.80" y1="359.50" x2="281.00" y2="359.50" stroke="#222" stroke-width="1" />
<text x="275.60" y="361.79" font-size="5.6" fill="#222" stroke="#222" stroke-width="0.112" text-anchor="end">1000</text>
<line x1="279.30" y1="350.32" x2="281.00" y2="350.32" stroke="#222" stroke-width="0.6" />
<line x1="279.30" y1="344.95" x2="281.00" y2="344.95" stroke="#222" stroke-width="0.6" />
<line x1="279.30" y1="341.14" x2="281.00" y2="341.14" stroke="#222" stroke-width="0.6" />
<line x1="279.30" y1="338.18" x2="281.00" y2="338.18" stroke="#222" stroke-width="0.6" />
<line x1="279.30" y1="335.77" x2="281.00" y2="335.77" stroke="#222" stroke-width="0.6" />
<line x1="279.30" y1="333.72" x2="281.00" y2="333.72" stroke="#222" stroke-width="0.6" />
<line x1="279.30" y1="331.96" x2="281.00" y2="331.96" stroke="#222" stroke-width="0.6" />
<line x1="279.30" y1="330.40" x2="281.00" y2="330.40" stroke="#222" stroke-width="0.6" />
<line x1="277.80" y1="329.00" x2="281.00" y2="329.00" stroke="#222" stroke-width="1" />
<text x="275.60" y="331.29" font-size="5.6" fill="#222" stroke="#222" stroke-width="0.112" text-anchor="end">10000</text>
<g transform="translate(253.60,373.40) rotate(-90)"><text x="0" y="2.56" font-size="7.2" fill="#333" stroke="#333" stroke-width="0.144" text-anchor="middle" textLength="32" lengthAdjust="spacingAndGlyphs">IL-6 (pg/mL)</text></g>
<line x1="280.30" y1="420.50" x2="413.80" y2="420.50" stroke="#222" stroke-width="1.3" />
<line x1="290.05" y1="420.50" x2="290.05" y2="423.00" stroke="#222" stroke-width="0.9" />
<text x="290.05" y="431.96" font-size="5.8" fill="#333" stroke="#333" stroke-width="0.116" text-anchor="middle">-5</text>
<line x1="314.20" y1="420.50" x2="314.20" y2="423.00" stroke="#222" stroke-width="0.9" />
<text x="314.20" y="431.96" font-size="5.8" fill="#333" stroke="#333" stroke-width="0.116" text-anchor="middle">0</text>
<line x1="338.35" y1="420.50" x2="338.35" y2="423.00" stroke="#222" stroke-width="0.9" />
<text x="338.35" y="431.96" font-size="5.8" fill="#333" stroke="#333" stroke-width="0.116" text-anchor="middle">5</text>
<line x1="362.50" y1="420.50" x2="362.50" y2="423.00" stroke="#222" stroke-width="0.9" />
<text x="362.50" y="431.96" font-size="5.8" fill="#333" stroke="#333" stroke-width="0.116" text-anchor="middle">10</text>
<line x1="386.65" y1="420.50" x2="386.65" y2="423.00" stroke="#222" stroke-width="0.9" />
<text x="386.65" y="431.96" font-size="5.8" fill="#333" stroke="#333" stroke-width="0.116" text-anchor="middle">15</text>
<line x1="410.80" y1="420.50" x2="410.80" y2="423.00" stroke="#222" stroke-width="0.9" />
<text x="410.80" y="431.96" font-size="5.8" fill="#333" stroke="#333" stroke-width="0.116" text-anchor="middle">20</text>
<line x1="302.12" y1="420.50" x2="302.12" y2="422.00" stroke="#222" stroke-width="0.8" />
<line x1="326.27" y1="420.50" x2="326.27" y2="422.00" stroke="#222" stroke-width="0.8" />
<line x1="350.43" y1="420.50" x2="350.43" y2="422.00" stroke="#222" stroke-width="0.8" />
<line x1="374.57" y1="420.50" x2="374.57" y2="422.00" stroke="#222" stroke-width="0.8" />
<line x1="398.73" y1="420.50" x2="398.73" y2="422.00" stroke="#222" stroke-width="0.8" />
<text x="348.70" y="441.69" font-size="7.0" fill="#333" stroke="#333" stroke-width="0.140" text-anchor="middle" textLength="57.4" lengthAdjust="spacingAndGlyphs">Time, patient 06 (day)</text>
<line x1="416.00" y1="326.60" x2="416.00" y2="420.50" stroke="#5b9fd9" stroke-width="1.1" />
<line x1="416.00" y1="420.00" x2="418.80" y2="420.00" stroke="#5b9fd9" stroke-width="0.9" />
<text x="421.40" y="422.29" font-size="5.6" fill="#5b9fd9" stroke="#5b9fd9" stroke-width="0.112">0</text>
<line x1="416.00" y1="397.35" x2="418.80" y2="397.35" stroke="#5b9fd9" stroke-width="0.9" />
<text x="421.40" y="399.64" font-size="5.6" fill="#5b9fd9" stroke="#5b9fd9" stroke-width="0.112">5</text>
<line x1="416.00" y1="374.70" x2="418.80" y2="374.70" stroke="#5b9fd9" stroke-width="0.9" />
<text x="421.40" y="376.99" font-size="5.6" fill="#5b9fd9" stroke="#5b9fd9" stroke-width="0.112">10</text>
<line x1="416.00" y1="352.05" x2="418.80" y2="352.05" stroke="#5b9fd9" stroke-width="0.9" />
<text x="421.40" y="354.34" font-size="5.6" fill="#5b9fd9" stroke="#5b9fd9" stroke-width="0.112">15</text>
<line x1="416.00" y1="329.40" x2="418.80" y2="329.40" stroke="#5b9fd9" stroke-width="0.9" />
<text x="421.40" y="331.69" font-size="5.6" fill="#5b9fd9" stroke="#5b9fd9" stroke-width="0.112">20</text>
<line x1="416.00" y1="408.68" x2="417.80" y2="408.68" stroke="#5b9fd9" stroke-width="0.7" />
<line x1="416.00" y1="386.02" x2="417.80" y2="386.02" stroke="#5b9fd9" stroke-width="0.7" />
<line x1="416.00" y1="363.38" x2="417.80" y2="363.38" stroke="#5b9fd9" stroke-width="0.7" />
<line x1="416.00" y1="340.73" x2="417.80" y2="340.73" stroke="#5b9fd9" stroke-width="0.7" />
<g transform="translate(434.80,373.90) rotate(90)"><text x="0" y="2.48" font-size="7.0" fill="#8fbde6" stroke="#8fbde6" stroke-width="0.140" text-anchor="middle" textLength="31" lengthAdjust="spacingAndGlyphs">CRP (mg/dL)</text></g>
<line x1="445.50" y1="326.60" x2="445.50" y2="422.60" stroke="#a6192e" stroke-width="1.1" />
<line x1="445.50" y1="420.40" x2="448.40" y2="420.40" stroke="#a6192e" stroke-width="0.9" />
<text x="451.40" y="422.69" font-size="5.6" fill="#a6192e" stroke="#a6192e" stroke-width="0.112">0</text>
<line x1="445.50" y1="402.18" x2="448.40" y2="402.18" stroke="#a6192e" stroke-width="0.9" />
<text x="451.40" y="404.47" font-size="5.6" fill="#a6192e" stroke="#a6192e" stroke-width="0.112">4000</text>
<line x1="445.50" y1="383.96" x2="448.40" y2="383.96" stroke="#a6192e" stroke-width="0.9" />
<text x="451.40" y="386.25" font-size="5.6" fill="#a6192e" stroke="#a6192e" stroke-width="0.112">8000</text>
<line x1="445.50" y1="365.74" x2="448.40" y2="365.74" stroke="#a6192e" stroke-width="0.9" />
<text x="451.40" y="368.03" font-size="5.6" fill="#a6192e" stroke="#a6192e" stroke-width="0.112">12000</text>
<line x1="445.50" y1="347.52" x2="448.40" y2="347.52" stroke="#a6192e" stroke-width="0.9" />
<text x="451.40" y="349.81" font-size="5.6" fill="#a6192e" stroke="#a6192e" stroke-width="0.112">16000</text>
<line x1="445.50" y1="329.30" x2="448.40" y2="329.30" stroke="#a6192e" stroke-width="0.9" />
<text x="451.40" y="331.59" font-size="5.6" fill="#a6192e" stroke="#a6192e" stroke-width="0.112">20000</text>
<line x1="445.50" y1="411.29" x2="447.40" y2="411.29" stroke="#a6192e" stroke-width="0.7" />
<line x1="445.50" y1="393.07" x2="447.40" y2="393.07" stroke="#a6192e" stroke-width="0.7" />
<line x1="445.50" y1="374.85" x2="447.40" y2="374.85" stroke="#a6192e" stroke-width="0.7" />
<line x1="445.50" y1="356.63" x2="447.40" y2="356.63" stroke="#a6192e" stroke-width="0.7" />
<line x1="445.50" y1="338.41" x2="447.40" y2="338.41" stroke="#a6192e" stroke-width="0.7" />
<g transform="translate(474.00,374.30) rotate(90)"><text x="0" y="2.48" font-size="7.0" fill="#c4566a" stroke="#c4566a" stroke-width="0.140" text-anchor="middle" textLength="40.6" lengthAdjust="spacingAndGlyphs">Ferritin (ng/mL)</text></g>
<line x1="483.90" y1="326.60" x2="483.90" y2="421.00" stroke="#6aab3f" stroke-width="1.1" />
<line x1="483.90" y1="420.20" x2="486.70" y2="420.20" stroke="#6aab3f" stroke-width="0.9" />
<text x="489.30" y="422.49" font-size="5.6" fill="#8cc06a" stroke="#8cc06a" stroke-width="0.112">0</text>
<line x1="483.90" y1="401.98" x2="486.70" y2="401.98" stroke="#6aab3f" stroke-width="0.9" />
<text x="489.30" y="404.27" font-size="5.6" fill="#8cc06a" stroke="#8cc06a" stroke-width="0.112">10</text>
<line x1="483.90" y1="383.76" x2="486.70" y2="383.76" stroke="#6aab3f" stroke-width="0.9" />
<text x="489.30" y="386.05" font-size="5.6" fill="#8cc06a" stroke="#8cc06a" stroke-width="0.112">20</text>
<line x1="483.90" y1="365.54" x2="486.70" y2="365.54" stroke="#6aab3f" stroke-width="0.9" />
<text x="489.30" y="367.83" font-size="5.6" fill="#8cc06a" stroke="#8cc06a" stroke-width="0.112">30</text>
<line x1="483.90" y1="347.32" x2="486.70" y2="347.32" stroke="#6aab3f" stroke-width="0.9" />
<text x="489.30" y="349.61" font-size="5.6" fill="#8cc06a" stroke="#8cc06a" stroke-width="0.112">40</text>
<line x1="483.90" y1="329.10" x2="486.70" y2="329.10" stroke="#6aab3f" stroke-width="0.9" />
<text x="489.30" y="331.39" font-size="5.6" fill="#8cc06a" stroke="#8cc06a" stroke-width="0.112">50</text>
<line x1="483.90" y1="411.09" x2="485.80" y2="411.09" stroke="#6aab3f" stroke-width="0.7" />
<line x1="483.90" y1="392.87" x2="485.80" y2="392.87" stroke="#6aab3f" stroke-width="0.7" />
<line x1="483.90" y1="374.65" x2="485.80" y2="374.65" stroke="#6aab3f" stroke-width="0.7" />
<line x1="483.90" y1="356.43" x2="485.80" y2="356.43" stroke="#6aab3f" stroke-width="0.7" />
<line x1="483.90" y1="338.21" x2="485.80" y2="338.21" stroke="#6aab3f" stroke-width="0.7" />
<g transform="translate(502.50,374.30) rotate(90)"><text x="0" y="2.48" font-size="7.0" fill="#9ccc7c" stroke="#9ccc7c" stroke-width="0.140" text-anchor="middle" textLength="38.5" lengthAdjust="spacingAndGlyphs">TNF-&#945; (pg/mL)</text></g>
<polyline points="314.60,385.20 319.40,389.90 324.10,379.50 329.00,402.00 333.60,408.90 338.80,414.10 343.70,416.40 348.00,414.10 352.70,403.70 357.90,408.40 363.00,413.30 368.20,416.40 372.20,417.60 377.00,418.60 381.90,419.00 386.90,419.00 391.70,419.20 396.50,419.30 401.30,419.30 406.10,419.30" fill="none" stroke="#4aa0e6" stroke-width="0.9" stroke-linejoin="round" />
<rect x="313.80" y="384.40" width="1.60" height="1.60" fill="#4aa0e6" />
<rect x="318.60" y="389.10" width="1.60" height="1.60" fill="#4aa0e6" />
<rect x="323.30" y="378.70" width="1.60" height="1.60" fill="#4aa0e6" />
<rect x="328.20" y="401.20" width="1.60" height="1.60" fill="#4aa0e6" />
<rect x="332.80" y="408.10" width="1.60" height="1.60" fill="#4aa0e6" />
<rect x="338.00" y="413.30" width="1.60" height="1.60" fill="#4aa0e6" />
<rect x="342.90" y="415.60" width="1.60" height="1.60" fill="#4aa0e6" />
<rect x="347.20" y="413.30" width="1.60" height="1.60" fill="#4aa0e6" />
<rect x="351.90" y="402.90" width="1.60" height="1.60" fill="#4aa0e6" />
<rect x="357.10" y="407.60" width="1.60" height="1.60" fill="#4aa0e6" />
<rect x="362.20" y="412.50" width="1.60" height="1.60" fill="#4aa0e6" />
<rect x="367.40" y="415.60" width="1.60" height="1.60" fill="#4aa0e6" />
<rect x="371.40" y="416.80" width="1.60" height="1.60" fill="#4aa0e6" />
<rect x="376.20" y="417.80" width="1.60" height="1.60" fill="#4aa0e6" />
<rect x="381.10" y="418.20" width="1.60" height="1.60" fill="#4aa0e6" />
<rect x="386.10" y="418.20" width="1.60" height="1.60" fill="#4aa0e6" />
<rect x="390.90" y="418.40" width="1.60" height="1.60" fill="#4aa0e6" />
<rect x="395.70" y="418.50" width="1.60" height="1.60" fill="#4aa0e6" />
<rect x="400.50" y="418.50" width="1.60" height="1.60" fill="#4aa0e6" />
<rect x="405.30" y="418.50" width="1.60" height="1.60" fill="#4aa0e6" />
<polyline points="290.40,402.00 304.70,414.10 314.60,404.10 319.40,411.90 324.10,403.40 338.80,406.70 343.70,412.40 348.00,401.10 352.70,403.20 357.90,415.80 367.60,412.40 377.00,409.30 381.90,415.20 386.90,413.00 391.70,410.40 396.50,410.80 406.10,414.10" fill="none" stroke="#5bac3a" stroke-width="0.9" stroke-linejoin="round" />
<rect x="289.50" y="401.10" width="1.80" height="1.80" fill="#5bac3a" />
<rect x="303.80" y="413.20" width="1.80" height="1.80" fill="#5bac3a" />
<rect x="313.70" y="403.20" width="1.80" height="1.80" fill="#5bac3a" />
<rect x="318.50" y="411.00" width="1.80" height="1.80" fill="#5bac3a" />
<rect x="323.20" y="402.50" width="1.80" height="1.80" fill="#5bac3a" />
<rect x="337.90" y="405.80" width="1.80" height="1.80" fill="#5bac3a" />
<rect x="342.80" y="411.50" width="1.80" height="1.80" fill="#5bac3a" />
<rect x="347.10" y="400.20" width="1.80" height="1.80" fill="#5bac3a" />
<rect x="351.80" y="402.30" width="1.80" height="1.80" fill="#5bac3a" />
<rect x="357.00" y="414.90" width="1.80" height="1.80" fill="#5bac3a" />
<rect x="366.70" y="411.50" width="1.80" height="1.80" fill="#5bac3a" />
<rect x="376.10" y="408.40" width="1.80" height="1.80" fill="#5bac3a" />
<rect x="381.00" y="414.30" width="1.80" height="1.80" fill="#5bac3a" />
<rect x="386.00" y="412.10" width="1.80" height="1.80" fill="#5bac3a" />
<rect x="390.80" y="409.50" width="1.80" height="1.80" fill="#5bac3a" />
<rect x="395.60" y="409.90" width="1.80" height="1.80" fill="#5bac3a" />
<rect x="405.20" y="413.20" width="1.80" height="1.80" fill="#5bac3a" />
<polyline points="314.60,417.60 319.40,415.80 324.10,414.10 329.00,413.60 333.60,413.20 338.80,412.90 343.70,412.40 348.00,405.50 353.00,348.40 357.80,354.40 362.80,363.30 367.60,391.10 372.20,403.20 377.00,410.20 381.90,411.50 386.90,407.10 391.70,403.60 396.50,410.40 401.30,410.40 406.10,411.50" fill="none" stroke="#b3122f" stroke-width="1.0" stroke-linejoin="round" />
<circle cx="314.60" cy="417.60" r="1.0" fill="#b3122f" />
<circle cx="319.40" cy="415.80" r="1.0" fill="#b3122f" />
<circle cx="324.10" cy="414.10" r="1.0" fill="#b3122f" />
<circle cx="329.00" cy="413.60" r="1.0" fill="#b3122f" />
<circle cx="333.60" cy="413.20" r="1.0" fill="#b3122f" />
<circle cx="338.80" cy="412.90" r="1.0" fill="#b3122f" />
<circle cx="343.70" cy="412.40" r="1.0" fill="#b3122f" />
<circle cx="348.00" cy="405.50" r="1.0" fill="#b3122f" />
<circle cx="353.00" cy="348.40" r="1.0" fill="#b3122f" />
<circle cx="357.80" cy="354.40" r="1.0" fill="#b3122f" />
<circle cx="362.80" cy="363.30" r="1.0" fill="#b3122f" />
<circle cx="367.60" cy="391.10" r="1.0" fill="#b3122f" />
<circle cx="372.20" cy="403.20" r="1.0" fill="#b3122f" />
<circle cx="377.00" cy="410.20" r="1.0" fill="#b3122f" />
<circle cx="381.90" cy="411.50" r="1.0" fill="#b3122f" />
<circle cx="386.90" cy="407.10" r="1.0" fill="#b3122f" />
<circle cx="391.70" cy="403.60" r="1.0" fill="#b3122f" />
<circle cx="396.50" cy="410.40" r="1.0" fill="#b3122f" />
<circle cx="401.30" cy="410.40" r="1.0" fill="#b3122f" />
<circle cx="406.10" cy="411.50" r="1.0" fill="#b3122f" />
<polyline points="290.40,407.20 304.70,413.60 314.60,386.40 319.40,390.80 323.80,352.90 338.80,369.80 343.30,357.70 348.20,341.50 353.30,341.50 358.20,353.10 377.00,387.40 381.90,391.10 386.90,386.70 391.70,388.30 406.10,388.90" fill="none" stroke="#4a4f62" stroke-width="0.8" stroke-linejoin="round" />
<circle cx="290.40" cy="407.20" r="1.35" fill="#3a3f52" />
<circle cx="304.70" cy="413.60" r="1.35" fill="#3a3f52" />
<circle cx="314.60" cy="386.40" r="1.35" fill="#3a3f52" />
<circle cx="319.40" cy="390.80" r="1.35" fill="#3a3f52" />
<circle cx="323.80" cy="352.90" r="1.35" fill="#3a3f52" />
<circle cx="338.80" cy="369.80" r="1.35" fill="#3a3f52" />
<circle cx="343.30" cy="357.70" r="1.35" fill="#3a3f52" />
<circle cx="348.20" cy="341.50" r="1.35" fill="#3a3f52" />
<circle cx="353.30" cy="341.50" r="1.35" fill="#3a3f52" />
<circle cx="358.20" cy="353.10" r="1.35" fill="#3a3f52" />
<circle cx="377.00" cy="387.40" r="1.35" fill="#3a3f52" />
<circle cx="381.90" cy="391.10" r="1.35" fill="#3a3f52" />
<circle cx="386.90" cy="386.70" r="1.35" fill="#3a3f52" />
<circle cx="391.70" cy="388.30" r="1.35" fill="#3a3f52" />
<circle cx="406.10" cy="388.90" r="1.35" fill="#3a3f52" />
<line x1="290.40" y1="404.20" x2="290.40" y2="410.20" stroke="#888" stroke-width="0.4" />
<line x1="370.20" y1="331.60" x2="386.00" y2="331.60" stroke="#9396a2" stroke-width="1.6" />
<circle cx="378.10" cy="331.60" r="1.4" fill="#2e3448" />
<text x="388.90" y="334.17" font-size="6.4" fill="#333" stroke="#333" stroke-width="0.128" textLength="8.7" lengthAdjust="spacingAndGlyphs">IL-6</text>
<line x1="370.20" y1="339.70" x2="386.00" y2="339.70" stroke="#b4d5f2" stroke-width="1.6" />
<rect x="377.20" y="338.80" width="1.80" height="1.80" fill="#4a9ee6" />
<text x="388.90" y="342.27" font-size="6.4" fill="#333" stroke="#333" stroke-width="0.128" textLength="8.6" lengthAdjust="spacingAndGlyphs">CRP</text>
<line x1="370.20" y1="347.80" x2="386.00" y2="347.80" stroke="#d27a8e" stroke-width="1.6" />
<circle cx="378.10" cy="347.80" r="1.4" fill="#a8102c" />
<text x="388.90" y="350.37" font-size="6.4" fill="#333" stroke="#333" stroke-width="0.128" textLength="16.9" lengthAdjust="spacingAndGlyphs">Ferritin</text>
<line x1="370.20" y1="355.90" x2="386.00" y2="355.90" stroke="#a8d494" stroke-width="1.6" />
<rect x="377.20" y="355.00" width="1.80" height="1.80" fill="#3f9a2a" />
<text x="388.90" y="358.47" font-size="6.4" fill="#333" stroke="#333" stroke-width="0.128" textLength="15.4" lengthAdjust="spacingAndGlyphs">TNF-&#945;</text>
<rect x="0.00" y="0.00" width="520.00" height="1.20" fill="#111" />
<rect x="0.00" y="0.00" width="1.20" height="479.00" fill="#111" />
<rect x="518.60" y="0.00" width="1.40" height="479.00" fill="#111" />
<rect x="0.00" y="477.30" width="520.00" height="1.70" fill="#111" />
</svg>
</body></html>
